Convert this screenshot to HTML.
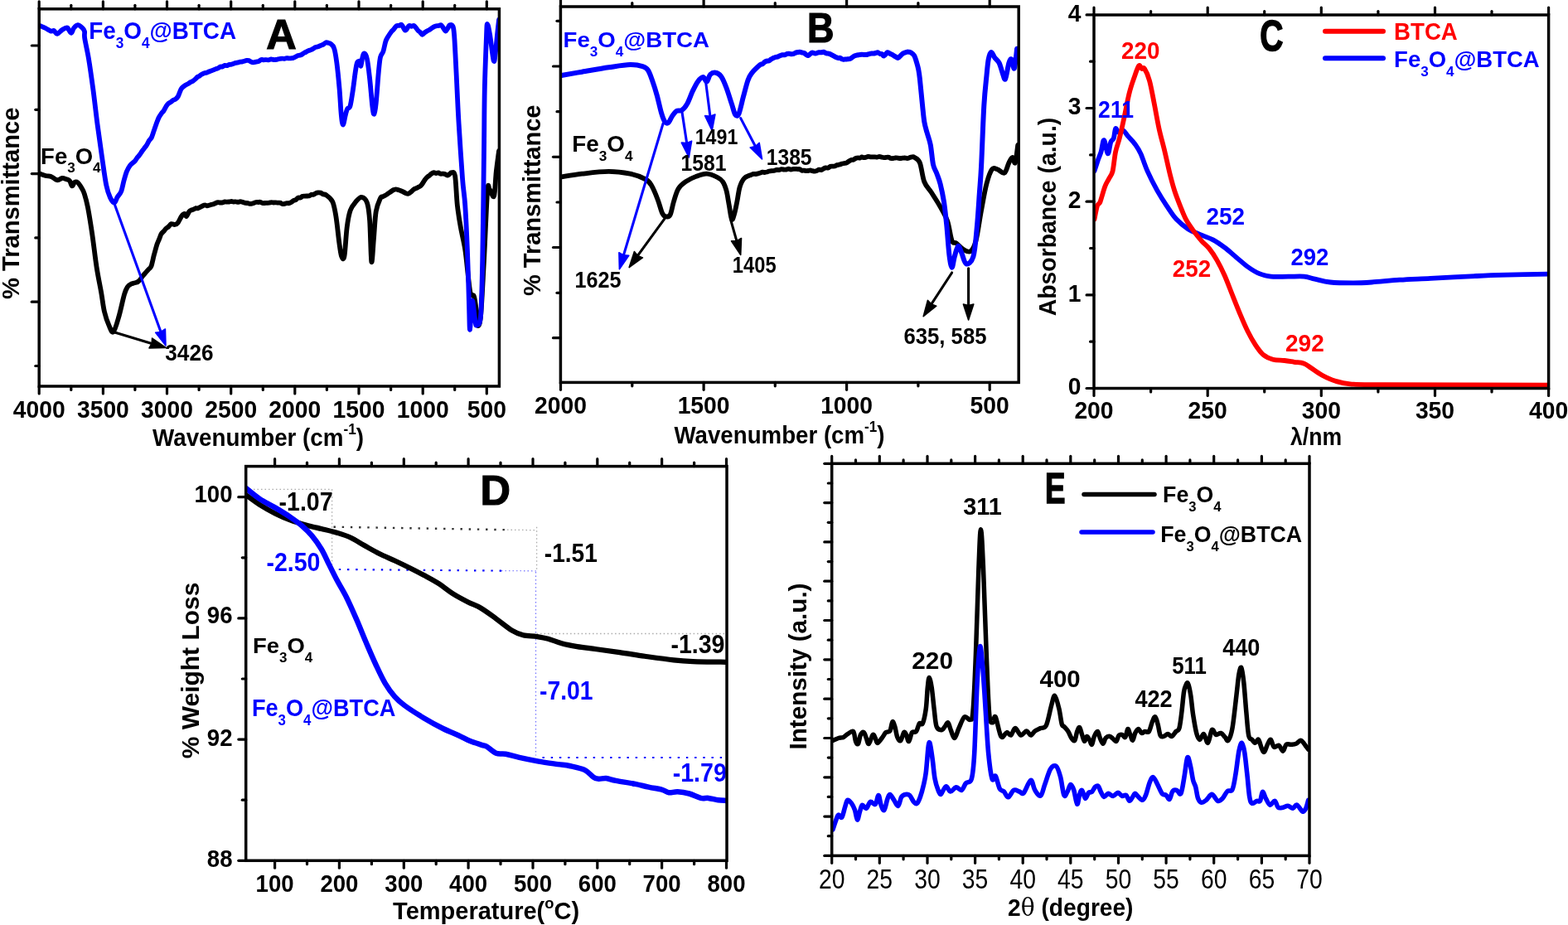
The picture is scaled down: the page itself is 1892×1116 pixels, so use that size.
<!DOCTYPE html>
<html><head><meta charset="utf-8"><title>Figure</title>
<style>
html,body{margin:0;padding:0;background:#fff;}
body{width:1892px;height:1116px;overflow:hidden;}
svg{display:block;}
text{font-family:'Liberation Sans', Arial, sans-serif;}
</style></head>
<body>
<svg width="1892" height="1116" viewBox="0 0 1892 1116">
<rect width="1892" height="1116" fill="#fff"/>
<defs><clipPath id="c0"><rect x="47.2" y="10.8" width="555.2" height="455.2"/></clipPath><clipPath id="c1"><rect x="676.4" y="8" width="552.8" height="453.4"/></clipPath><clipPath id="c2"><rect x="1320" y="18" width="548.6" height="450.5"/></clipPath><clipPath id="c3"><rect x="296.7" y="562.6" width="580.3" height="475.7"/></clipPath><clipPath id="c4"><rect x="1003.7" y="559.3" width="576.3" height="473.1"/></clipPath></defs>
<line x1="47.2" y1="466" x2="47.2" y2="474.9" stroke="#000000" stroke-width="3.2" stroke-linecap="round"/>
<line x1="47.2" y1="10.8" x2="47.2" y2="1.8" stroke="#000000" stroke-width="3.2" stroke-linecap="round"/>
<line x1="124.4" y1="466" x2="124.4" y2="474.9" stroke="#000000" stroke-width="3.2" stroke-linecap="round"/>
<line x1="124.4" y1="10.8" x2="124.4" y2="1.8" stroke="#000000" stroke-width="3.2" stroke-linecap="round"/>
<line x1="201.5" y1="466" x2="201.5" y2="474.9" stroke="#000000" stroke-width="3.2" stroke-linecap="round"/>
<line x1="201.5" y1="10.8" x2="201.5" y2="1.8" stroke="#000000" stroke-width="3.2" stroke-linecap="round"/>
<line x1="278.7" y1="466" x2="278.7" y2="474.9" stroke="#000000" stroke-width="3.2" stroke-linecap="round"/>
<line x1="278.7" y1="10.8" x2="278.7" y2="1.8" stroke="#000000" stroke-width="3.2" stroke-linecap="round"/>
<line x1="355.8" y1="466" x2="355.8" y2="474.9" stroke="#000000" stroke-width="3.2" stroke-linecap="round"/>
<line x1="355.8" y1="10.8" x2="355.8" y2="1.8" stroke="#000000" stroke-width="3.2" stroke-linecap="round"/>
<line x1="433" y1="466" x2="433" y2="474.9" stroke="#000000" stroke-width="3.2" stroke-linecap="round"/>
<line x1="433" y1="10.8" x2="433" y2="1.8" stroke="#000000" stroke-width="3.2" stroke-linecap="round"/>
<line x1="510.2" y1="466" x2="510.2" y2="474.9" stroke="#000000" stroke-width="3.2" stroke-linecap="round"/>
<line x1="510.2" y1="10.8" x2="510.2" y2="1.8" stroke="#000000" stroke-width="3.2" stroke-linecap="round"/>
<line x1="587.3" y1="466" x2="587.3" y2="474.9" stroke="#000000" stroke-width="3.2" stroke-linecap="round"/>
<line x1="587.3" y1="10.8" x2="587.3" y2="1.8" stroke="#000000" stroke-width="3.2" stroke-linecap="round"/>
<line x1="85.8" y1="466" x2="85.8" y2="470.4" stroke="#000000" stroke-width="3.2" stroke-linecap="round"/>
<line x1="85.8" y1="10.8" x2="85.8" y2="6.3" stroke="#000000" stroke-width="3.2" stroke-linecap="round"/>
<line x1="162.9" y1="466" x2="162.9" y2="470.4" stroke="#000000" stroke-width="3.2" stroke-linecap="round"/>
<line x1="162.9" y1="10.8" x2="162.9" y2="6.3" stroke="#000000" stroke-width="3.2" stroke-linecap="round"/>
<line x1="240.1" y1="466" x2="240.1" y2="470.4" stroke="#000000" stroke-width="3.2" stroke-linecap="round"/>
<line x1="240.1" y1="10.8" x2="240.1" y2="6.3" stroke="#000000" stroke-width="3.2" stroke-linecap="round"/>
<line x1="317.3" y1="466" x2="317.3" y2="470.4" stroke="#000000" stroke-width="3.2" stroke-linecap="round"/>
<line x1="317.3" y1="10.8" x2="317.3" y2="6.3" stroke="#000000" stroke-width="3.2" stroke-linecap="round"/>
<line x1="394.4" y1="466" x2="394.4" y2="470.4" stroke="#000000" stroke-width="3.2" stroke-linecap="round"/>
<line x1="394.4" y1="10.8" x2="394.4" y2="6.3" stroke="#000000" stroke-width="3.2" stroke-linecap="round"/>
<line x1="471.6" y1="466" x2="471.6" y2="470.4" stroke="#000000" stroke-width="3.2" stroke-linecap="round"/>
<line x1="471.6" y1="10.8" x2="471.6" y2="6.3" stroke="#000000" stroke-width="3.2" stroke-linecap="round"/>
<line x1="548.7" y1="466" x2="548.7" y2="470.4" stroke="#000000" stroke-width="3.2" stroke-linecap="round"/>
<line x1="548.7" y1="10.8" x2="548.7" y2="6.3" stroke="#000000" stroke-width="3.2" stroke-linecap="round"/>
<line x1="47.2" y1="55" x2="38.3" y2="55" stroke="#000000" stroke-width="3.2" stroke-linecap="round"/>
<line x1="47.2" y1="209.6" x2="38.3" y2="209.6" stroke="#000000" stroke-width="3.2" stroke-linecap="round"/>
<line x1="47.2" y1="364.2" x2="38.3" y2="364.2" stroke="#000000" stroke-width="3.2" stroke-linecap="round"/>
<line x1="47.2" y1="132.3" x2="42.8" y2="132.3" stroke="#000000" stroke-width="3.2" stroke-linecap="round"/>
<line x1="47.2" y1="286.9" x2="42.8" y2="286.9" stroke="#000000" stroke-width="3.2" stroke-linecap="round"/>
<line x1="47.2" y1="441.5" x2="42.8" y2="441.5" stroke="#000000" stroke-width="3.2" stroke-linecap="round"/>
<text x="47.2" y="504.4" font-size="29.8" fill="#000000" text-anchor="middle" font-weight="bold" textLength="62.9" lengthAdjust="spacingAndGlyphs" >4000</text>
<text x="124.4" y="504.4" font-size="29.8" fill="#000000" text-anchor="middle" font-weight="bold" textLength="62.9" lengthAdjust="spacingAndGlyphs" >3500</text>
<text x="201.5" y="504.4" font-size="29.8" fill="#000000" text-anchor="middle" font-weight="bold" textLength="62.9" lengthAdjust="spacingAndGlyphs" >3000</text>
<text x="278.7" y="504.4" font-size="29.8" fill="#000000" text-anchor="middle" font-weight="bold" textLength="62.9" lengthAdjust="spacingAndGlyphs" >2500</text>
<text x="355.8" y="504.4" font-size="29.8" fill="#000000" text-anchor="middle" font-weight="bold" textLength="62.9" lengthAdjust="spacingAndGlyphs" >2000</text>
<text x="433" y="504.4" font-size="29.8" fill="#000000" text-anchor="middle" font-weight="bold" textLength="62.9" lengthAdjust="spacingAndGlyphs" >1500</text>
<text x="510.2" y="504.4" font-size="29.8" fill="#000000" text-anchor="middle" font-weight="bold" textLength="62.9" lengthAdjust="spacingAndGlyphs" >1000</text>
<text x="587.3" y="504.4" font-size="29.8" fill="#000000" text-anchor="middle" font-weight="bold" textLength="47.2" lengthAdjust="spacingAndGlyphs" >500</text>
<text x="311.5" y="538.4" font-size="30" fill="#000000" text-anchor="middle" font-weight="bold" textLength="255" lengthAdjust="spacingAndGlyphs" >Wavenumber (cm<tspan font-size="18.5" dy="-14">-1</tspan><tspan dy="14">)</tspan></text>
<text x="0" y="0" font-size="30" fill="#000000" text-anchor="middle" font-weight="bold" textLength="231.5" lengthAdjust="spacingAndGlyphs" transform="translate(23,245.3) rotate(-90)">% Transmittance</text>
<path d="M48.1,209.6 C49.2,210 52.8,211.4 55,212 C57.2,212.6 59.5,212.2 61.5,212.9 C63.5,213.6 65.5,215.6 66.9,216.3 C68.3,217 68.8,217.4 70.1,217.2 C71.4,217 73.3,215.2 75,215 C76.7,214.8 78.8,215.8 80.3,216.3 C81.8,216.8 82.9,216.7 84,218 C85.1,219.3 86,224.1 87,224.4 C88,224.7 88.9,220.7 90,220 C91.1,219.3 92.5,219.3 93.8,220.3 C95.1,221.3 96.7,223.8 98,226 C99.3,228.2 100.5,229.8 101.8,233.8 C103.1,237.8 104.3,241.8 105.9,249.9 C107.5,258 109.4,270.1 111.2,282.2 C113,294.3 114.8,310.9 116.6,322.5 C118.4,334.1 120.4,343.1 122,352 C123.6,360.9 124.4,369.5 126,376.2 C127.6,382.9 129.6,388.4 131.4,392.4 C133.2,396.4 134.8,402.2 136.8,400.4 C138.8,398.6 141.3,389.2 143.5,381.6 C145.7,374 148.4,360.6 150.2,354.7 C151.9,348.8 152.7,348 154,346 C155.3,344 157.1,343.3 158.3,342.6 C159.5,341.9 160.1,341.9 161,341.7 C161.9,341.4 162.7,341.2 163.6,341 C164.5,340.7 165.4,340.6 166.3,340 C167.2,339.4 168.1,338.6 169,337.5 C169.9,336.4 170.8,334.8 171.7,333.6 C172.6,332.4 173.5,331.5 174.4,330.5 C175.3,329.5 176.2,328.4 177.1,327.4 C178,326.4 178.9,325.4 179.8,324.4 C180.7,323.3 181.5,323.9 182.5,321.1 C183.5,318.3 184.7,312.1 185.8,307.8 C187,303.6 188.2,298.8 189.2,295.6 C190.2,292.4 191,291.2 191.9,288.9 C192.8,286.7 193.7,283.8 194.6,282.2 C195.5,280.6 196.4,280.3 197.3,279.3 C198.2,278.3 199,277 200,276 C201,275 202.2,274.5 203.3,273.5 C204.5,272.5 205.4,270.5 206.7,270.1 C208,269.7 209.7,271.2 211,271 C212.3,270.8 213.4,270.4 214.7,268.7 C216,267 217.7,262.8 219,261 C220.3,259.2 221.8,258 222.8,258 C223.8,258 224.1,261.4 225,261 C225.9,260.6 227.2,256.5 228.2,255.3 C229.2,254.1 230,253.9 230.9,253.5 C231.8,253.1 232.7,253.1 233.6,252.7 C234.5,252.3 235.4,251.5 236.2,251.2 C237.1,251 238,251.5 238.9,251.3 C239.8,251 240.7,250.4 241.6,249.9 C242.5,249.5 243.4,248.9 244.3,248.5 C245.2,248.1 246.1,247.3 247,247.3 C247.9,247.2 248.8,248.2 249.7,248.3 C250.6,248.4 251.5,248 252.4,247.7 C253.3,247.5 254.2,247 255.1,246.7 C255.9,246.5 256.8,246.5 257.7,246.2 C258.6,245.9 259.5,245.3 260.4,245 C261.3,244.6 262.2,244.3 263.1,244.2 C264,244.1 264.9,244.5 265.8,244.5 C266.7,244.5 267.6,244.6 268.5,244.4 C269.4,244.2 270.3,243.6 271.2,243.5 C272.1,243.4 273,243.6 273.9,243.6 C274.8,243.6 275.7,243.6 276.6,243.5 C277.5,243.4 278.3,243 279.2,243 C280.1,243 281,243.5 281.9,243.6 C282.8,243.6 283.7,243.3 284.6,243.4 C285.5,243.4 286.4,243.9 287.3,243.9 C288.2,243.9 289,243.2 290,243.2 C291,243.2 292,243.6 293,243.9 C294,244.2 295,244.6 296.1,244.8 C297.1,245 298.1,245 299.1,245.2 C300.1,245.4 301,245.9 302.1,245.9 C303.2,245.9 304.3,245.5 305.5,245.2 C306.6,244.9 307.8,244.2 308.8,244 C309.8,243.8 310.6,244 311.4,244 C312.3,244 313.2,243.6 314.1,243.8 C315,243.9 315.9,244.8 316.8,245 C317.6,245.2 318.5,245.1 319.4,245 C320.3,245 321.2,244.9 322.1,244.9 C322.9,244.8 323.8,244.8 324.7,244.7 C325.6,244.6 326.5,244.2 327.4,244.1 C328.2,244.1 329.1,244.5 330,244.5 C330.9,244.5 331.8,244.3 332.7,244.3 C333.6,244.4 334.5,244.7 335.4,244.7 C336.3,244.8 337.1,244.4 338,244.7 C338.9,244.9 339.8,245.8 340.7,246 C341.6,246.3 342.5,246.1 343.4,245.9 C344.3,245.7 345.2,245.2 346.1,245.1 C347,245 347.9,245.4 348.8,245.2 C349.7,245 350.6,244.5 351.5,244 C352.4,243.5 353.3,242.5 354.2,242 C355.1,241.5 356,241.7 356.9,241.1 C357.8,240.6 358.7,239 359.6,238.6 C360.5,238.2 361.4,238.9 362.3,238.6 C363.2,238.3 364.1,237.1 365,236.8 C365.8,236.4 366.7,236.6 367.6,236.6 C368.5,236.5 369.4,236.5 370.3,236.5 C371.2,236.5 372.1,236.6 373,236.3 C373.9,236.1 374.8,235.1 375.7,234.8 C376.6,234.6 377.5,235.1 378.4,234.8 C379.3,234.5 380.2,233.5 381.1,233.1 C382,232.7 382.8,232.5 383.8,232.4 C384.8,232.3 385.9,232.3 386.9,232.6 C388,233 389,234 390.1,234.4 C391.1,234.8 391.3,233.6 393.2,235.1 C395.1,236.6 399.2,238.9 401.2,243.2 C403.2,247.4 403.9,252.3 405.3,260.6 C406.7,268.9 408.2,284.8 409.3,292.9 C410.4,301 411,306.3 412,309 C413,311.7 414.4,314.8 415.5,309 C416.6,303.2 417.5,283.3 418.7,274.1 C419.9,264.9 420.9,259.1 422.7,253.9 C424.5,248.8 427.2,245.9 429.5,243.2 C431.8,240.5 434,237.6 436.2,237.8 C438.4,238 441.2,239.8 442.9,244.5 C444.5,249.2 445.2,254.1 446.1,266 C447,277.9 447.5,312.2 448.3,315.8 C449.1,319.4 450.1,297.6 451,287.5 C451.9,277.4 452.4,263.4 453.7,255.3 C455,247.2 457.7,242.1 459,239.1 C460.3,236.1 460.8,237.9 461.7,237.4 C462.6,236.9 463.5,236.5 464.4,236 C465.3,235.5 466.2,234.9 467.1,234.3 C468,233.7 468.9,233 469.8,232.4 C470.7,231.8 471.6,231.1 472.5,230.6 C473.4,230 474.2,229.4 475.1,229 C476,228.7 476.9,228.4 477.8,228.4 C478.7,228.4 479.6,228.9 480.5,229.1 C481.4,229.4 482.3,229.6 483.2,229.9 C484.1,230.2 484.9,230.6 485.9,231.1 C486.9,231.6 488.1,232.4 489.2,232.9 C490.4,233.3 491.5,234.1 492.6,233.8 C493.7,233.5 494.9,232.3 496,231.4 C497.1,230.5 498.4,229.1 499.4,228.4 C500.4,227.7 501.2,227.6 502.1,227.2 C503,226.8 503.8,226.3 504.7,225.8 C505.6,225.3 506.5,225.2 507.4,224.4 C508.3,223.6 509.2,222.3 510.1,221 C511,219.7 511.9,217.9 512.8,216.7 C513.7,215.5 514.6,214.4 515.5,213.6 C516.4,212.8 517.3,212.4 518.2,211.7 C519.1,211 519.9,210.1 520.8,209.5 C521.7,208.9 522.6,208.3 523.5,208.2 C524.4,208.1 525.3,209.1 526.2,209.1 C527.1,209.1 528,208.2 528.9,208.3 C529.8,208.4 530.7,209.5 531.6,209.7 C532.5,209.9 533.4,209.5 534.3,209.6 C535.2,209.7 536.1,209.7 537,210.1 C537.9,210.4 538.8,211.7 539.7,211.7 C540.6,211.7 541.5,210.8 542.4,210.2 C543.2,209.6 543.9,207.9 545,208.2 C546.1,208.5 548,205.8 549.1,212.3 C550.2,218.8 550.7,236.9 551.8,247.2 C552.9,257.5 554.2,265.1 555.8,274.1 C557.4,283.1 559.6,290.7 561.2,301 C562.8,311.3 564.1,326.9 565.2,335.9 C566.3,344.8 566.8,351.1 567.9,354.7 C569,358.3 570.8,354.3 571.9,357.4 C573,360.5 573.9,367.7 574.6,373.5 C575.3,379.3 575.1,391 576,392.4 C576.9,393.8 578.7,394.6 580,381.6 C581.3,368.6 582.6,339.5 584,314.4 C585.4,289.3 587,245.4 588.1,231.1 C589.2,216.8 589.5,227.5 590.8,228.4 C592.1,229.3 594.8,240.1 596.1,236.5 C597.4,232.9 597.8,216 598.8,206.9 C599.8,197.8 601.5,186.2 602,182" fill="none" stroke="#000000" stroke-width="5.8" stroke-linejoin="round" stroke-linecap="round" clip-path="url(#c0)" />
<path d="M48.6,31.2 C49.7,31.7 52.9,32.9 55,34 C57.1,35.1 59.8,37.1 61.5,37.6 C63.2,38.1 63.8,36.5 65,37 C66.2,37.5 67.3,41.1 69,40.9 C70.7,40.7 73,37.3 75,36 C77,34.7 79.6,33.3 80.9,33.3 C82.2,33.3 82.1,34.9 83,36 C83.9,37.1 85.2,40.1 86.2,39.8 C87.2,39.5 87.7,35.6 89,34 C90.3,32.4 92.1,30.2 93.8,30.1 C95.5,30 97.7,32.1 99.1,33.4 C100.5,34.7 101.5,35.9 102,38 C102.5,40.1 101.4,40.7 102.2,46.2 C103,51.7 105.3,60.8 107,71 C108.7,81.2 110.5,94.2 112.3,107.5 C114.1,120.8 115.8,136.9 117.6,150.5 C119.4,164.1 121.2,177 123,189.2 C124.8,201.4 126.6,215.5 128.3,223.7 C130,231.9 131.4,235 133,238.5 C134.6,242 136.7,244.6 138.1,244.5 C139.5,244.4 140.2,240.2 141.5,238 C142.8,235.8 144.9,234.3 146.2,231 C147.5,227.7 148.4,222 149.5,218 C150.6,214 151.7,210 152.9,206.9 C154.2,203.8 155.4,201.6 157,199.5 C158.6,197.4 161.2,196.1 162.6,194.6 C164,193.1 164.5,191.5 165.5,190.3 C166.4,189 167.4,188.3 168.3,187 C169.3,185.8 170.2,184.2 171.2,182.8 C172.2,181.4 173.2,180.1 174.1,178.8 C175.1,177.5 176.1,176.3 177.1,174.8 C178.1,173.2 179.1,170.9 180.1,169.4 C181,167.9 182,167.6 183,165.6 C184,163.6 184.9,160 185.9,157.3 C186.8,154.5 187.8,151.8 188.7,149.2 C189.7,146.7 190.6,143.9 191.6,141.9 C192.6,139.9 193.6,138.5 194.6,137.2 C195.5,135.8 196.5,135.1 197.5,133.7 C198.5,132.2 199.5,129.9 200.4,128.4 C201.4,126.9 202.4,125.6 203.4,124.7 C204.4,123.8 205.3,123.6 206.3,123 C207.2,122.3 208.2,121.3 209.1,120.7 C210.1,120.1 211,120.2 212,119.4 C213,118.6 213.9,118 215,116 C216.1,114 217.3,109.5 218.5,107.5 C219.7,105.5 221,104.9 222,104 C223,103.1 223.7,102.7 224.6,102.2 C225.4,101.7 226.2,101.5 227.1,101 C228,100.5 228.9,99.6 229.9,99.1 C230.8,98.5 231.7,98.4 232.6,97.9 C233.6,97.3 234.5,96.5 235.4,95.7 C236.3,94.9 237.3,93.6 238.2,92.9 C239.1,92.2 240,92.1 241,91.5 C241.9,90.9 242.8,90 243.7,89.5 C244.7,88.9 245.6,88.5 246.5,88.2 C247.4,87.9 248.3,88 249.3,87.7 C250.2,87.4 251.1,86.9 252,86.5 C252.9,86.1 253.9,85.8 254.8,85.4 C255.7,85.1 256.6,84.8 257.5,84.4 C258.4,84 259.4,83.5 260.3,83.2 C261.2,82.8 262.1,82.8 263,82.4 C264,82 264.9,80.9 265.8,80.6 C266.7,80.3 267.6,80.7 268.5,80.4 C269.4,80.1 270.3,79.1 271.2,78.9 C272.1,78.7 273,79.3 273.9,79.2 C274.8,79 275.7,78.2 276.6,77.9 C277.4,77.7 278.3,77.9 279.2,77.7 C280.1,77.5 281,77 281.9,76.7 C282.8,76.4 283.7,76.1 284.6,75.8 C285.5,75.6 286.4,75.5 287.3,75.3 C288.2,75.1 289,74.8 289.9,74.6 C290.7,74.5 291.6,74.5 292.5,74.3 C293.3,74.1 294.2,73.9 295,73.7 C295.9,73.5 296.8,73 297.6,72.9 C298.5,72.8 299.3,72.8 300.2,73.1 C301.1,73.4 302,74.3 302.9,74.7 C303.8,75.1 304.6,75.3 305.6,75.3 C306.6,75.3 307.8,74.9 308.8,74.7 C309.9,74.4 311,74.3 312.1,73.9 C313.1,73.4 314.3,72.3 315.3,72 C316.3,71.7 317.3,72.3 318.2,72.3 C319.2,72.3 320.2,72.1 321.2,72.1 C322.2,72.1 323.1,72.5 324.1,72.4 C325.1,72.3 326.1,71.5 327.1,71.4 C328,71.3 329.1,71.9 330,72 C330.9,72.1 331.8,72.1 332.6,72 C333.5,72 334.4,71.7 335.3,71.4 C336.1,71.2 337,70.9 337.9,70.8 C338.8,70.6 339.7,70.6 340.5,70.6 C341.4,70.6 342.3,70.9 343.2,70.9 C344,70.8 344.9,70.3 345.8,70.2 C346.7,70.1 347.6,70.3 348.4,70.3 C349.3,70.3 350.2,70.4 351.1,70.3 C351.9,70.2 352.8,70.2 353.7,69.9 C354.6,69.6 355.5,69.1 356.4,68.7 C357.3,68.2 358.2,67.5 359,67.2 C359.9,66.8 360.8,66.9 361.7,66.7 C362.6,66.4 363.5,66.1 364.4,65.6 C365.3,65.1 366.2,64.3 367.1,63.8 C368,63.3 368.9,62.9 369.8,62.5 C370.7,62 371.6,61.4 372.5,61.1 C373.4,60.7 374.3,60.6 375.2,60.2 C376.1,59.8 377.1,59.2 378.1,58.7 C379,58.1 380,57.3 380.9,56.9 C381.9,56.5 382.8,56.6 383.8,56.3 C384.8,56 385.9,55.3 387,54.8 C388.1,54.4 389.1,54.2 390.2,53.6 C391.3,53 392.4,51.5 393.4,51.2 C394.4,50.9 395.2,51.5 396.1,51.8 C397,52 397.6,51.6 398.8,52.7 C400,53.8 401.9,54.3 403.1,58.1 C404.4,61.9 405.2,67.1 406.3,75.3 C407.4,83.5 408.7,97.1 409.6,107.5 C410.5,117.9 411,130.4 411.7,137.6 C412.4,144.8 413,150.5 413.9,150.5 C414.8,150.5 416.2,140.8 417.1,137.6 C418,134.4 418.3,132.8 419.2,131.2 C420.1,129.6 421.4,131.6 422.5,128 C423.6,124.4 424.6,116.7 425.7,109.7 C426.8,102.7 428,91.7 428.9,86 C429.8,80.3 430.2,77.3 431.1,75.3 C432,73.3 433.6,73.5 434.3,74.2 C435,74.9 434.9,80.5 435.4,79.6 C435.9,78.7 436.8,71.3 437.5,68.8 C438.2,66.3 438.8,64.1 439.7,64.5 C440.6,64.9 441.8,66 442.9,71 C444,76 445,84.9 446.1,94.6 C447.2,104.3 448.5,121.8 449.4,129 C450.3,136.2 450.8,138.3 451.5,137.6 C452.2,136.9 452.8,133.3 453.7,124.7 C454.6,116.1 456,95.3 456.9,86 C457.8,76.7 458.1,72.7 459,68.8 C459.9,64.9 461.2,65.6 462.3,62.4 C463.4,59.2 464.4,52.6 465.5,49.5 C466.6,46.4 467.6,45.3 468.7,43.5 C469.8,41.7 470.8,40.1 471.9,38.7 C473,37.3 474.1,36.5 475.1,35.2 C476.2,34 477.3,31.9 478.4,31.2 C479.5,30.5 480.5,31 481.6,30.9 C482.7,30.7 483.6,29.1 484.8,30.1 C486.1,31.1 487.7,36.4 489.1,36.6 C490.5,36.8 492.1,32 493.4,31.2 C494.7,30.4 495.6,31.8 496.6,31.8 C497.7,31.8 498.6,30.4 499.9,31.2 C501.2,32 503,35.3 504.2,36.6 C505.4,37.9 506,38 506.9,38.9 C507.8,39.8 508.7,41.8 509.6,41.9 C510.5,42 511.4,40.1 512.3,39.4 C513.2,38.7 514.1,38.1 515,37.6 C515.9,37.1 516.9,36.7 517.8,36.2 C518.8,35.6 519.7,34.9 520.7,34.3 C521.6,33.6 522.5,32.8 523.5,32.3 C524.5,31.8 525.4,31.5 526.4,31.3 C527.4,31.1 528.3,31.3 529.3,31.1 C530.3,30.9 531.3,29.7 532.2,30.1 C533.1,30.5 534,32.5 534.9,33.7 C535.7,35 536.6,37.5 537.5,37.6 C538.4,37.7 539.3,35.5 540.2,34.2 C541.1,33 541.7,30.1 542.9,30.1 C544.1,30.1 546.1,28.7 547.2,34.4 C548.3,40.1 548.7,52.3 549.4,64.5 C550.1,76.7 550.8,93.2 551.5,107.5 C552.2,121.8 552.6,132.6 553.7,150.5 C554.8,168.4 556.8,198.9 558,215 C559.2,231.1 560.2,232.9 561.2,247.2 C562.2,261.5 563.1,280.8 563.9,301 C564.7,321.2 565.5,352.1 566,368.2 C566.5,384.3 566.5,398.6 567.1,397.7 C567.7,396.8 568.8,364.6 569.8,362.8 C570.8,361 572.4,382.1 573.3,387 C574.2,391.9 574.1,393.3 575.2,392.4 C576.3,391.5 578.8,394.6 580,381.6 C581.2,368.6 581.5,348 582.2,314.4 C582.9,280.8 583.6,214.5 584,180 C584.4,145.5 584.3,130.3 584.8,107.5 C585.3,84.7 586.5,56.1 587,43 C587.5,29.9 587.4,29 588.1,29 C588.8,29 590,35.6 591.3,43 C592.5,50.4 594.5,69.5 595.6,73.1 C596.7,76.7 597,69.5 597.7,64.5 C598.4,59.5 599.2,49.8 599.9,43 C600.6,36.2 601.6,26.9 602,23.7" fill="none" stroke="#0000ff" stroke-width="5.8" stroke-linejoin="round" stroke-linecap="round" clip-path="url(#c0)" />
<line x1="138.1" y1="246" x2="194.6" y2="402" stroke="#0000ff" stroke-width="3.1" stroke-linecap="round"/>
<polygon points="200,417 187.7,401.2 194,400.5 199.4,397" fill="#0000ff" stroke="#0000ff" stroke-width="1.6" stroke-linejoin="round"/>
<line x1="136.8" y1="400.4" x2="184.7" y2="414.9" stroke="#000000" stroke-width="3.1" stroke-linecap="round"/>
<polygon points="200,419.5 180,419.9 183.2,414.4 183.6,408.1" fill="#000000" stroke="#000000" stroke-width="1.6" stroke-linejoin="round"/>
<text x="199.3" y="435" font-size="28.249999999999996" fill="#000000" text-anchor="start" font-weight="bold" textLength="58.2" lengthAdjust="spacingAndGlyphs" >3426</text>
<text x="107.2" y="47" font-size="28.62" fill="#0000ff" text-anchor="start" font-weight="bold" textLength="177.8" lengthAdjust="spacingAndGlyphs" >Fe<tspan font-size="17.7" dy="11.4">3</tspan><tspan dy="-11.4">O</tspan><tspan font-size="17.7" dy="11.4">4</tspan><tspan dy="-11.4">@BTCA</tspan></text>
<text x="49.1" y="197.6" font-size="27.03" fill="#000000" text-anchor="start" font-weight="bold" textLength="72.5" lengthAdjust="spacingAndGlyphs" >Fe<tspan font-size="16.8" dy="10.8">3</tspan><tspan dy="-10.8">O</tspan><tspan font-size="16.8" dy="10.8">4</tspan></text>
<text x="321.2" y="59.2" font-size="50.5" fill="#000000" text-anchor="start" font-weight="bold" textLength="36.5" lengthAdjust="spacingAndGlyphs" stroke="#000" stroke-width="1.2">A</text>
<line x1="676.5" y1="461.4" x2="676.5" y2="470.3" stroke="#000000" stroke-width="3.2" stroke-linecap="round"/>
<line x1="676.5" y1="8" x2="676.5" y2="-0.9" stroke="#000000" stroke-width="3.2" stroke-linecap="round"/>
<line x1="849.1" y1="461.4" x2="849.1" y2="470.3" stroke="#000000" stroke-width="3.2" stroke-linecap="round"/>
<line x1="849.1" y1="8" x2="849.1" y2="-0.9" stroke="#000000" stroke-width="3.2" stroke-linecap="round"/>
<line x1="1021.6" y1="461.4" x2="1021.6" y2="470.3" stroke="#000000" stroke-width="3.2" stroke-linecap="round"/>
<line x1="1021.6" y1="8" x2="1021.6" y2="-0.9" stroke="#000000" stroke-width="3.2" stroke-linecap="round"/>
<line x1="1194.2" y1="461.4" x2="1194.2" y2="470.3" stroke="#000000" stroke-width="3.2" stroke-linecap="round"/>
<line x1="1194.2" y1="8" x2="1194.2" y2="-0.9" stroke="#000000" stroke-width="3.2" stroke-linecap="round"/>
<line x1="762.8" y1="461.4" x2="762.8" y2="465.8" stroke="#000000" stroke-width="3.2" stroke-linecap="round"/>
<line x1="762.8" y1="8" x2="762.8" y2="3.6" stroke="#000000" stroke-width="3.2" stroke-linecap="round"/>
<line x1="935.3" y1="461.4" x2="935.3" y2="465.8" stroke="#000000" stroke-width="3.2" stroke-linecap="round"/>
<line x1="935.3" y1="8" x2="935.3" y2="3.6" stroke="#000000" stroke-width="3.2" stroke-linecap="round"/>
<line x1="1107.9" y1="461.4" x2="1107.9" y2="465.8" stroke="#000000" stroke-width="3.2" stroke-linecap="round"/>
<line x1="1107.9" y1="8" x2="1107.9" y2="3.6" stroke="#000000" stroke-width="3.2" stroke-linecap="round"/>
<line x1="676.4" y1="80" x2="667.5" y2="80" stroke="#000000" stroke-width="3.2" stroke-linecap="round"/>
<line x1="676.4" y1="189.3" x2="667.5" y2="189.3" stroke="#000000" stroke-width="3.2" stroke-linecap="round"/>
<line x1="676.4" y1="298.5" x2="667.5" y2="298.5" stroke="#000000" stroke-width="3.2" stroke-linecap="round"/>
<line x1="676.4" y1="407.7" x2="667.5" y2="407.7" stroke="#000000" stroke-width="3.2" stroke-linecap="round"/>
<line x1="676.4" y1="25.3" x2="672" y2="25.3" stroke="#000000" stroke-width="3.2" stroke-linecap="round"/>
<line x1="676.4" y1="134.7" x2="672" y2="134.7" stroke="#000000" stroke-width="3.2" stroke-linecap="round"/>
<line x1="676.4" y1="244" x2="672" y2="244" stroke="#000000" stroke-width="3.2" stroke-linecap="round"/>
<line x1="676.4" y1="353.3" x2="672" y2="353.3" stroke="#000000" stroke-width="3.2" stroke-linecap="round"/>
<text x="676.5" y="499.3" font-size="29.8" fill="#000000" text-anchor="middle" font-weight="bold" textLength="62.9" lengthAdjust="spacingAndGlyphs" >2000</text>
<text x="849.1" y="499.3" font-size="29.8" fill="#000000" text-anchor="middle" font-weight="bold" textLength="62.9" lengthAdjust="spacingAndGlyphs" >1500</text>
<text x="1021.6" y="499.3" font-size="29.8" fill="#000000" text-anchor="middle" font-weight="bold" textLength="62.9" lengthAdjust="spacingAndGlyphs" >1000</text>
<text x="1194.2" y="499.3" font-size="29.8" fill="#000000" text-anchor="middle" font-weight="bold" textLength="47.2" lengthAdjust="spacingAndGlyphs" >500</text>
<text x="940.5" y="534.6" font-size="30" fill="#000000" text-anchor="middle" font-weight="bold" textLength="254" lengthAdjust="spacingAndGlyphs" >Wavenumber (cm<tspan font-size="18.5" dy="-14">-1</tspan><tspan dy="14">)</tspan></text>
<text x="0" y="0" font-size="30" fill="#000000" text-anchor="middle" font-weight="bold" textLength="230.5" lengthAdjust="spacingAndGlyphs" transform="translate(652,241.8) rotate(-90)">% Transmittance</text>
<path d="M677.5,213.3 C681.6,212.7 692.8,210.8 702.3,209.7 C711.8,208.6 724.8,206.9 734.5,206.9 C744.2,206.9 752.9,208.2 760.3,209.7 C767.6,211.2 774.3,213.8 778.6,216.1 C782.9,218.4 783.6,219.6 786.1,223.7 C788.6,227.8 791.6,235.3 793.7,240.9 C795.9,246.5 797.4,253.6 799,257 C800.6,260.4 801.7,260.9 803.3,261.3 C804.9,261.7 807.1,262.2 808.7,259.1 C810.3,256.1 811.4,248.2 813,243 C814.6,237.8 816.1,231.9 818.4,228 C820.7,224.1 823.4,221.9 827,219.4 C830.6,216.9 835.6,214.5 839.9,212.9 C844.2,211.3 848.5,209.5 852.8,209.7 C857.1,209.9 862.5,212.4 865.7,214 C868.9,215.6 870.4,216.7 872.2,219.4 C874,222.1 875.2,225.4 876.5,230.1 C877.8,234.8 878.6,241.6 879.7,247.3 C880.8,253 881.8,262.7 882.9,264.5 C884,266.3 885,261.7 886.1,258.1 C887.2,254.5 888.3,248.4 889.4,243 C890.5,237.6 891.2,230.5 892.6,225.8 C894,221.2 895.7,217.6 898,215.1 C900.3,212.6 904.7,211.7 906.6,210.8 C908.5,209.9 908.4,209.9 909.3,209.8 C910.2,209.7 911.1,210.1 912,210 C912.9,209.9 913.8,209.6 914.7,209.4 C915.6,209.1 916.5,208.9 917.4,208.6 C918.2,208.3 919.1,207.8 920,207.7 C920.9,207.6 921.8,208 922.7,208 C923.6,207.9 924.5,207.7 925.4,207.5 C926.3,207.2 927.2,206.7 928.1,206.5 C929,206.3 930.1,206.3 931.1,206.1 C932.1,206 933.1,205.9 934,205.8 C935,205.6 936,205.1 937,205 C938,204.9 939,205.1 940,205 C941,204.9 941.9,204.2 942.9,204.1 C943.8,204 944.8,204.4 945.7,204.5 C946.7,204.5 947.6,204.7 948.6,204.6 C949.6,204.4 950.5,203.7 951.5,203.7 C952.4,203.7 953.4,204.5 954.3,204.5 C955.3,204.5 956.3,204 957.2,203.9 C958.1,203.8 958.9,203.8 959.8,203.8 C960.6,203.8 961.5,204 962.4,204.1 C963.2,204.1 964.1,203.8 964.9,204.1 C965.8,204.4 966.7,205.5 967.5,205.7 C968.4,206 969.2,205.6 970.1,205.6 C971,205.7 971.8,206 972.7,206.1 C973.5,206.2 974.4,206.1 975.3,206 C976.1,205.9 977,205.5 977.8,205.5 C978.7,205.5 979.6,206 980.4,206.2 C981.3,206.4 982.1,206.7 983,206.7 C983.9,206.7 984.8,206.3 985.7,205.9 C986.6,205.6 987.5,204.8 988.4,204.6 C989.3,204.5 990.2,205.2 991.1,205 C992,204.9 992.9,203.9 993.8,203.5 C994.6,203 995.5,202.6 996.4,202.4 C997.3,202.3 998.2,202.8 999.1,202.6 C1000,202.3 1000.9,201.2 1001.8,200.8 C1002.7,200.5 1003.6,200.7 1004.5,200.6 C1005.4,200.5 1006.4,200.7 1007.4,200.5 C1008.3,200.2 1009.3,199.4 1010.2,199.1 C1011.2,198.8 1012.1,198.8 1013.1,198.5 C1014.1,198.3 1015,197.8 1016,197.5 C1016.9,197.3 1017.9,197.2 1018.8,197 C1019.8,196.8 1020.8,196.7 1021.7,196.3 C1022.6,195.9 1023.5,195.1 1024.4,194.5 C1025.3,194 1026.2,193.3 1027.1,193 C1028,192.7 1028.9,193.2 1029.8,192.8 C1030.7,192.5 1031.6,191.4 1032.5,191 C1033.4,190.6 1034.2,190.3 1035,190.3 C1035.8,190.2 1036.7,190.8 1037.5,190.7 C1038.3,190.5 1039.2,189.6 1040,189.5 C1040.8,189.4 1041.7,190.2 1042.5,190.2 C1043.3,190.2 1044.2,189.9 1045,189.7 C1045.8,189.5 1046.6,188.9 1047.5,188.8 C1048.4,188.7 1049.3,189.2 1050.2,189.3 C1051.1,189.4 1052,189.4 1052.9,189.4 C1053.8,189.4 1054.7,189.3 1055.6,189.3 C1056.5,189.4 1057.4,189.7 1058.2,189.7 C1059.1,189.6 1060,189 1060.9,189 C1061.8,188.9 1062.7,189.4 1063.6,189.6 C1064.5,189.8 1065.4,190.2 1066.3,190.2 C1067.2,190.3 1068.1,190 1069,189.9 C1069.9,189.8 1070.9,189.5 1071.9,189.7 C1072.8,189.8 1073.8,190.6 1074.7,190.9 C1075.7,191.1 1076.6,191.1 1077.6,191 C1078.6,190.9 1079.5,190.6 1080.5,190.5 C1081.4,190.4 1082.4,190.5 1083.3,190.6 C1084.3,190.7 1085.2,191 1086.2,191 C1087.2,191 1088.1,190.8 1089.1,190.7 C1090,190.7 1091,190.4 1091.9,190.5 C1092.9,190.5 1093.8,191.2 1094.8,191.1 C1095.8,191.1 1096.7,190.4 1097.7,190.1 C1098.6,189.8 1099.6,189.5 1100.5,189.4 C1101.5,189.4 1101.8,188.8 1103.4,189.9 C1105,191 1107.9,191.4 1109.9,196.3 C1111.9,201.2 1113,213.4 1115.3,219.4 C1117.6,225.4 1120.7,227.3 1123.9,232.3 C1127.1,237.3 1131.4,243.8 1134.6,249.5 C1137.8,255.2 1140.9,259.9 1143.2,266.7 C1145.5,273.5 1146.8,285.8 1148.6,290.3 C1150.4,294.8 1151.7,291.7 1154,293.5 C1156.3,295.3 1159.7,299.5 1162.6,301.1 C1165.5,302.7 1168.7,305 1171.2,303.2 C1173.7,301.4 1175.4,298.5 1177.6,290.3 C1179.8,282.1 1181.9,265.3 1184.1,253.8 C1186.2,242.3 1188.3,229.8 1190.5,221.5 C1192.7,213.2 1194.8,207.2 1197,204.3 C1199.2,201.4 1200.9,203.6 1203.4,204.3 C1205.9,205 1209.7,209.9 1212,208.6 C1214.3,207.3 1215.8,199.4 1217.4,196.3 C1219,193.2 1220.4,189.9 1221.7,189.9 C1223,189.9 1223.9,198.8 1225,196.3 C1226.1,193.8 1227.7,178.4 1228.2,174.8" fill="none" stroke="#000000" stroke-width="5.8" stroke-linejoin="round" stroke-linecap="round" clip-path="url(#c1)" />
<path d="M677.5,91 C681.6,90.3 692.8,88.3 702.3,86.7 C711.8,85.1 724.8,82.7 734.5,81.3 C744.2,79.9 753.5,78.3 760.3,78.1 C767.1,77.9 771.8,79.1 775.4,80.2 C779,81.3 779.8,81.6 781.8,84.5 C783.8,87.4 785.4,92.4 787.2,97.4 C789,102.4 790.8,108.1 792.6,114.6 C794.4,121 796.4,130.7 798,136.1 C799.6,141.5 800.9,144.9 802.3,146.9 C803.7,148.9 805.2,149.1 806.6,148 C808,146.9 809.3,142.7 810.9,140.4 C812.5,138.1 814.2,135.2 816.2,134 C818.2,132.8 820.6,134.3 822.7,132.9 C824.9,131.5 827,129.2 829.1,125.4 C831.2,121.6 833.5,114.8 835.6,110.3 C837.8,105.8 839.9,101.4 842,98.5 C844.1,95.6 846.7,93.1 848.5,93.1 C850.3,93.1 851.4,99 852.8,98.5 C854.2,98 855.3,91.7 857.1,89.9 C858.9,88.1 861.4,87.4 863.5,87.7 C865.6,88 867.8,89 870,92 C872.2,95 874.4,100.4 876.5,106 C878.6,111.6 881.1,120 882.9,125.4 C884.7,130.8 885.8,136.3 887.2,138.3 C888.6,140.3 889.9,140.8 891.5,137.2 C893.1,133.6 895.1,123.4 896.9,116.8 C898.7,110.2 900.7,102.1 902.3,97.4 C903.9,92.7 904.1,92 906.6,88.8 C909.1,85.6 915.1,80 917.3,78.1 C919.5,76.2 919,77.9 919.9,77.3 C920.7,76.8 921.6,75.7 922.5,75.1 C923.3,74.4 924.2,73.9 925,73.6 C925.9,73.4 926.8,73.8 927.6,73.5 C928.5,73.2 929.3,72.2 930.2,71.6 C931.1,71 932,70.6 932.9,70.1 C933.8,69.7 934.7,69.3 935.6,69 C936.5,68.7 937.4,68.8 938.3,68.6 C939.2,68.3 940,67.7 941,67.3 C942,66.9 943,66.5 944,66.3 C945,66.1 946,66.4 947,66.2 C948,65.9 949.1,65.1 950,64.9 C950.9,64.7 951.7,64.7 952.5,64.8 C953.4,64.8 954.3,65.3 955.1,65.3 C955.9,65.3 956.8,65.3 957.6,65 C958.4,64.7 959.3,63.9 960.1,63.6 C960.9,63.3 961.8,63.1 962.7,63 C963.5,62.9 964.4,62.7 965.2,62.8 C966.1,62.9 966.9,63.3 967.8,63.5 C968.6,63.7 969.4,63.6 970.3,64 C971.1,64.4 972,65.5 972.8,66 C973.7,66.5 974.3,67.4 975.4,67 C976.5,66.6 978.2,64 979.6,63.6 C981,63.2 982.4,64.6 983.8,64.5 C985.2,64.4 986.9,63.4 988.1,63.2 C989.3,63 990.1,63.3 991,63.2 C992,63.2 993,62.6 994,62.8 C995,63 996.2,64 997.4,64.4 C998.5,64.7 999.4,64.5 1000.7,64.9 C1002,65.3 1003.8,66.4 1005,67 C1006.2,67.6 1007,68.2 1008,68.7 C1008.9,69.2 1009.9,69.7 1010.9,69.9 C1011.9,70.1 1012.8,69.7 1013.7,69.9 C1014.6,70.2 1015.6,71.2 1016.5,71.5 C1017.4,71.8 1018.3,71.6 1019.3,71.6 C1020.3,71.6 1021.6,71.4 1022.7,71.3 C1023.8,71.2 1024.8,71.4 1026.1,70.8 C1027.4,70.2 1029,68.5 1030.3,67.8 C1031.6,67.1 1032.6,67 1033.7,66.7 C1034.8,66.4 1036,66.3 1037.1,66.1 C1038.2,65.9 1039.1,65.7 1040,65.7 C1041,65.7 1042,66.1 1043,66.1 C1044,66.1 1044.9,66.1 1045.8,66 C1046.8,65.8 1047.7,65.4 1048.7,65.1 C1049.6,64.9 1050.6,64.6 1051.5,64.5 C1052.4,64.4 1053.2,64.7 1054,64.6 C1054.9,64.5 1055.7,64.2 1056.6,64 C1057.4,63.7 1058.3,63.1 1059.1,63.2 C1059.9,63.3 1060.8,64.5 1061.7,64.8 C1062.5,65.2 1063.4,64.9 1064.2,65.3 C1065,65.7 1065.6,67.8 1066.7,67.4 C1067.8,67.1 1069.7,63.6 1070.9,63.2 C1072.1,62.8 1072.9,64.2 1073.9,64.7 C1074.9,65.2 1075.8,65.5 1076.9,66.1 C1078,66.7 1079.1,67.6 1080.2,68.2 C1081.4,68.9 1082.5,70.1 1083.6,69.9 C1084.6,69.7 1085.6,68.2 1086.5,67.3 C1087.5,66.4 1088.3,65.3 1089.5,64.5 C1090.7,63.7 1092.7,63.1 1093.8,62.8 C1094.9,62.5 1095.5,62.6 1096.3,62.7 C1097.1,62.8 1097.7,62.5 1098.8,63.2 C1099.9,63.9 1102,65.2 1103.1,67 C1104.2,68.8 1104.8,71.1 1105.6,73.8 C1106.4,76.5 1107.4,79.5 1108.1,83.1 C1108.8,86.7 1109.1,87.9 1109.9,95.3 C1110.7,102.7 1112.2,118.9 1113.1,127.5 C1114,136.1 1114.4,141.5 1115.3,146.9 C1116.2,152.3 1117.2,155.2 1118.5,159.8 C1119.8,164.5 1121.5,168.4 1122.8,174.8 C1124,181.2 1124.8,192.8 1126,198.5 C1127.2,204.2 1128.9,205.3 1130.3,209.2 C1131.7,213.1 1133.2,216.4 1134.6,222 C1136,227.6 1137.6,234.8 1138.9,243 C1140.2,251.2 1141.1,260.2 1142.2,271 C1143.3,281.8 1144.3,298.9 1145.4,307.5 C1146.5,316.1 1147.5,322.2 1148.6,322.6 C1149.7,323 1150.5,314 1151.8,309.7 C1153,305.4 1154.7,297.5 1156.1,296.8 C1157.5,296.1 1158.8,301.8 1160.4,305.4 C1162,309 1163.5,317.6 1165.8,318.3 C1168.1,319 1172.2,316.9 1174.4,309.7 C1176.6,302.5 1177.5,288.2 1178.7,275.3 C1180,262.4 1181,244.9 1181.9,232.3 C1182.8,219.8 1183.2,217.5 1184.1,200 C1185,182.5 1186.2,145.7 1187.3,127.5 C1188.4,109.3 1189.6,100.3 1190.5,91 C1191.4,81.7 1191.8,76.3 1192.7,71.6 C1193.6,66.9 1194.7,63.4 1195.9,63 C1197.2,62.6 1198.6,67.3 1200.2,69.5 C1201.8,71.7 1204,72.7 1205.6,75.9 C1207.2,79.1 1208.7,85.6 1209.9,88.8 C1211.2,92 1211.8,97.4 1213.1,95.3 C1214.3,93.2 1216.2,79.9 1217.4,75.9 C1218.7,72 1219.5,70.5 1220.6,71.6 C1221.7,72.7 1222.8,84.6 1223.9,82.4 C1225,80.2 1226.6,62.7 1227.1,58.7" fill="none" stroke="#0000ff" stroke-width="6" stroke-linejoin="round" stroke-linecap="round" clip-path="url(#c1)" />
<line x1="800.1" y1="149" x2="752" y2="309.4" stroke="#0000ff" stroke-width="3.1" stroke-linecap="round"/>
<polygon points="747.4,324.7 746.9,304.7 752.4,307.9 758.8,308.3" fill="#0000ff" stroke="#0000ff" stroke-width="1.6" stroke-linejoin="round"/>
<line x1="823.1" y1="136.1" x2="828.9" y2="174.1" stroke="#0000ff" stroke-width="3.1" stroke-linecap="round"/>
<polygon points="831.3,189.9 822.3,172.1 828.7,172.6 834.6,170.2" fill="#0000ff" stroke="#0000ff" stroke-width="1.6" stroke-linejoin="round"/>
<line x1="851.7" y1="99.6" x2="857.1" y2="141.7" stroke="#0000ff" stroke-width="3.1" stroke-linecap="round"/>
<polygon points="859.2,157.6 850.6,139.6 857,140.2 862.9,138" fill="#0000ff" stroke="#0000ff" stroke-width="1.6" stroke-linejoin="round"/>
<line x1="893.7" y1="142.6" x2="912.1" y2="177.8" stroke="#0000ff" stroke-width="3.1" stroke-linecap="round"/>
<polygon points="919.5,192 905.2,178 911.4,176.5 916.2,172.3" fill="#0000ff" stroke="#0000ff" stroke-width="1.6" stroke-linejoin="round"/>
<line x1="802.3" y1="263.4" x2="768.6" y2="309.7" stroke="#000000" stroke-width="3.1" stroke-linecap="round"/>
<polygon points="759.2,322.6 765.4,303.6 769.5,308.5 775.4,310.9" fill="#000000" stroke="#000000" stroke-width="1.6" stroke-linejoin="round"/>
<line x1="881.8" y1="265.6" x2="889.3" y2="292.1" stroke="#000000" stroke-width="3.1" stroke-linecap="round"/>
<polygon points="893.7,307.5 882.5,290.9 888.9,290.7 894.5,287.5" fill="#000000" stroke="#000000" stroke-width="1.6" stroke-linejoin="round"/>
<line x1="1148.6" y1="329" x2="1122.9" y2="368.3" stroke="#000000" stroke-width="3.1" stroke-linecap="round"/>
<polygon points="1114.2,381.7 1119.4,362.4 1123.8,367 1129.8,369.2" fill="#000000" stroke="#000000" stroke-width="1.6" stroke-linejoin="round"/>
<line x1="1168.6" y1="323.7" x2="1168.6" y2="370" stroke="#000000" stroke-width="3.1" stroke-linecap="round"/>
<polygon points="1168.6,386 1162.4,367 1168.6,368.5 1174.8,367" fill="#000000" stroke="#000000" stroke-width="1.6" stroke-linejoin="round"/>
<text x="838.7" y="173.9" font-size="26.554999999999996" fill="#000000" text-anchor="start" font-weight="bold" textLength="51.7" lengthAdjust="spacingAndGlyphs" >1491</text>
<text x="821.5" y="205.8" font-size="27.119999999999997" fill="#000000" text-anchor="start" font-weight="bold" textLength="54.9" lengthAdjust="spacingAndGlyphs" >1581</text>
<text x="924.8" y="199.3" font-size="27.119999999999997" fill="#000000" text-anchor="start" font-weight="bold" textLength="54.7" lengthAdjust="spacingAndGlyphs" >1385</text>
<text x="693.5" y="347" font-size="27.119999999999997" fill="#000000" text-anchor="start" font-weight="bold" textLength="56" lengthAdjust="spacingAndGlyphs" >1625</text>
<text x="883.8" y="328.8" font-size="27.119999999999997" fill="#000000" text-anchor="start" font-weight="bold" textLength="52.8" lengthAdjust="spacingAndGlyphs" >1405</text>
<text x="1090.4" y="414.8" font-size="27.119999999999997" fill="#000000" text-anchor="start" font-weight="bold" textLength="100.1" lengthAdjust="spacingAndGlyphs" >635, 585</text>
<text x="679.6" y="57.4" font-size="25.970000000000002" fill="#0000ff" text-anchor="start" font-weight="bold" textLength="176.4" lengthAdjust="spacingAndGlyphs" >Fe<tspan font-size="16.1" dy="10.4">3</tspan><tspan dy="-10.4">O</tspan><tspan font-size="16.1" dy="10.4">4</tspan><tspan dy="-10.4">@BTCA</tspan></text>
<text x="690.3" y="183.2" font-size="27.560000000000002" fill="#000000" text-anchor="start" font-weight="bold" textLength="73.2" lengthAdjust="spacingAndGlyphs" >Fe<tspan font-size="17.1" dy="11">3</tspan><tspan dy="-11">O</tspan><tspan font-size="17.1" dy="11">4</tspan></text>
<text x="974" y="50.8" font-size="50.5" fill="#000000" text-anchor="start" font-weight="bold" textLength="32.5" lengthAdjust="spacingAndGlyphs" stroke="#000" stroke-width="1.2">B</text>
<line x1="1320" y1="468.5" x2="1320" y2="477.4" stroke="#000000" stroke-width="3.2" stroke-linecap="round"/>
<line x1="1320" y1="18" x2="1320" y2="9.1" stroke="#000000" stroke-width="3.2" stroke-linecap="round"/>
<line x1="1457.2" y1="468.5" x2="1457.2" y2="477.4" stroke="#000000" stroke-width="3.2" stroke-linecap="round"/>
<line x1="1457.2" y1="18" x2="1457.2" y2="9.1" stroke="#000000" stroke-width="3.2" stroke-linecap="round"/>
<line x1="1594.3" y1="468.5" x2="1594.3" y2="477.4" stroke="#000000" stroke-width="3.2" stroke-linecap="round"/>
<line x1="1594.3" y1="18" x2="1594.3" y2="9.1" stroke="#000000" stroke-width="3.2" stroke-linecap="round"/>
<line x1="1731.5" y1="468.5" x2="1731.5" y2="477.4" stroke="#000000" stroke-width="3.2" stroke-linecap="round"/>
<line x1="1731.5" y1="18" x2="1731.5" y2="9.1" stroke="#000000" stroke-width="3.2" stroke-linecap="round"/>
<line x1="1868.6" y1="468.5" x2="1868.6" y2="477.4" stroke="#000000" stroke-width="3.2" stroke-linecap="round"/>
<line x1="1868.6" y1="18" x2="1868.6" y2="9.1" stroke="#000000" stroke-width="3.2" stroke-linecap="round"/>
<line x1="1388.6" y1="468.5" x2="1388.6" y2="472.9" stroke="#000000" stroke-width="3.2" stroke-linecap="round"/>
<line x1="1388.6" y1="18" x2="1388.6" y2="13.6" stroke="#000000" stroke-width="3.2" stroke-linecap="round"/>
<line x1="1525.7" y1="468.5" x2="1525.7" y2="472.9" stroke="#000000" stroke-width="3.2" stroke-linecap="round"/>
<line x1="1525.7" y1="18" x2="1525.7" y2="13.6" stroke="#000000" stroke-width="3.2" stroke-linecap="round"/>
<line x1="1662.9" y1="468.5" x2="1662.9" y2="472.9" stroke="#000000" stroke-width="3.2" stroke-linecap="round"/>
<line x1="1662.9" y1="18" x2="1662.9" y2="13.6" stroke="#000000" stroke-width="3.2" stroke-linecap="round"/>
<line x1="1800" y1="468.5" x2="1800" y2="472.9" stroke="#000000" stroke-width="3.2" stroke-linecap="round"/>
<line x1="1800" y1="18" x2="1800" y2="13.6" stroke="#000000" stroke-width="3.2" stroke-linecap="round"/>
<line x1="1320" y1="468.5" x2="1311.1" y2="468.5" stroke="#000000" stroke-width="3.2" stroke-linecap="round"/>
<line x1="1320" y1="355.9" x2="1311.1" y2="355.9" stroke="#000000" stroke-width="3.2" stroke-linecap="round"/>
<line x1="1320" y1="243.2" x2="1311.1" y2="243.2" stroke="#000000" stroke-width="3.2" stroke-linecap="round"/>
<line x1="1320" y1="130.5" x2="1311.1" y2="130.5" stroke="#000000" stroke-width="3.2" stroke-linecap="round"/>
<line x1="1320" y1="17.9" x2="1311.1" y2="17.9" stroke="#000000" stroke-width="3.2" stroke-linecap="round"/>
<line x1="1320" y1="412.2" x2="1315.6" y2="412.2" stroke="#000000" stroke-width="3.2" stroke-linecap="round"/>
<line x1="1320" y1="299.5" x2="1315.6" y2="299.5" stroke="#000000" stroke-width="3.2" stroke-linecap="round"/>
<line x1="1320" y1="186.9" x2="1315.6" y2="186.9" stroke="#000000" stroke-width="3.2" stroke-linecap="round"/>
<line x1="1320" y1="74.2" x2="1315.6" y2="74.2" stroke="#000000" stroke-width="3.2" stroke-linecap="round"/>
<text x="1320" y="505.4" font-size="29.8" fill="#000000" text-anchor="middle" font-weight="bold" textLength="47.2" lengthAdjust="spacingAndGlyphs" >200</text>
<text x="1457.2" y="505.4" font-size="29.8" fill="#000000" text-anchor="middle" font-weight="bold" textLength="47.2" lengthAdjust="spacingAndGlyphs" >250</text>
<text x="1594.3" y="505.4" font-size="29.8" fill="#000000" text-anchor="middle" font-weight="bold" textLength="47.2" lengthAdjust="spacingAndGlyphs" >300</text>
<text x="1731.5" y="505.4" font-size="29.8" fill="#000000" text-anchor="middle" font-weight="bold" textLength="47.2" lengthAdjust="spacingAndGlyphs" >350</text>
<text x="1868.6" y="505.4" font-size="29.8" fill="#000000" text-anchor="middle" font-weight="bold" textLength="47.2" lengthAdjust="spacingAndGlyphs" >400</text>
<text x="1304.5" y="476.2" font-size="29.8" fill="#000000" text-anchor="end" font-weight="bold" textLength="15.7" lengthAdjust="spacingAndGlyphs" >0</text>
<text x="1304.5" y="363.6" font-size="29.8" fill="#000000" text-anchor="end" font-weight="bold" textLength="15.7" lengthAdjust="spacingAndGlyphs" >1</text>
<text x="1304.5" y="250.9" font-size="29.8" fill="#000000" text-anchor="end" font-weight="bold" textLength="15.7" lengthAdjust="spacingAndGlyphs" >2</text>
<text x="1304.5" y="138.2" font-size="29.8" fill="#000000" text-anchor="end" font-weight="bold" textLength="15.7" lengthAdjust="spacingAndGlyphs" >3</text>
<text x="1304.5" y="25.6" font-size="29.8" fill="#000000" text-anchor="end" font-weight="bold" textLength="15.7" lengthAdjust="spacingAndGlyphs" >4</text>
<text x="1588" y="537.4" font-size="29.5" fill="#000000" text-anchor="middle" font-weight="bold" textLength="62" lengthAdjust="spacingAndGlyphs" >&#955;/nm</text>
<text x="0" y="0" font-size="30" fill="#000000" text-anchor="middle" font-weight="bold" textLength="239.5" lengthAdjust="spacingAndGlyphs" transform="translate(1274.2,261.5) rotate(-90)">Absorbance (a.u.)</text>
<path d="M1320.5,206.4 C1321.3,204.1 1323.8,196.3 1325.1,192.4 C1326.4,188.5 1327.4,187 1328.6,183.1 C1329.8,179.2 1330.7,168.7 1332.1,169.1 C1333.5,169.5 1335.4,185 1336.8,185.4 C1338.2,185.8 1339.1,174.5 1340.3,171.4 C1341.5,168.3 1342.8,169.5 1343.8,166.8 C1344.8,164.1 1345.1,156.3 1346.1,155.1 C1347.1,153.9 1348,159.4 1349.6,159.8 C1351.1,160.2 1353.5,156.6 1355.4,157.4 C1357.3,158.2 1358.9,161.7 1361.2,164.4 C1363.5,167.1 1366.9,170.2 1369.4,173.7 C1371.9,177.2 1373.9,179.9 1376.4,185.4 C1378.9,190.9 1381.2,199 1384.5,206.4 C1387.8,213.8 1392.3,222.6 1396.2,229.6 C1400.1,236.6 1403.9,242.5 1407.8,248.3 C1411.7,254.1 1415.2,260 1419.5,264.6 C1423.8,269.2 1428.5,273 1433.5,276.2 C1438.5,279.4 1444.8,281.4 1449.8,283.6 C1454.8,285.8 1459,286.9 1463.7,289.4 C1468.4,291.9 1473,295.2 1477.7,298.7 C1482.4,302.2 1487,306.5 1491.7,310.4 C1496.4,314.3 1501.1,318.7 1505.7,322 C1510.3,325.3 1514.9,328.2 1519.6,330.2 C1524.2,332.1 1527.8,333.1 1533.6,333.7 C1539.4,334.3 1547.9,333.7 1554.6,333.7 C1561.2,333.7 1568.2,333.1 1573.5,333.6 C1578.8,334.1 1581.2,335.6 1586.5,336.7 C1591.8,337.8 1597.3,339.7 1605.1,340.5 C1612.8,341.3 1624.6,341.4 1633,341.4 C1641.4,341.4 1646,341.1 1655.3,340.5 C1664.6,339.9 1677,338.5 1688.8,337.7 C1700.6,336.9 1710.5,336.6 1726,335.8 C1741.5,335 1766.4,333.7 1781.9,333 C1797.4,332.3 1804.7,332.1 1819.1,331.7 C1833.5,331.3 1860.2,330.8 1868.4,330.6" fill="none" stroke="#0000ff" stroke-width="5.8" stroke-linejoin="round" stroke-linecap="round" clip-path="url(#c2)" />
<path d="M1320.5,264.6 C1321.1,261.9 1322.8,251.8 1324,248.3 C1325.2,244.8 1326,247.5 1327.5,243.6 C1329,239.7 1331.5,229.7 1333.3,225 C1335,220.3 1336.5,218.8 1338,215.7 C1339.5,212.6 1341.2,211.8 1342.6,206.4 C1343.9,201 1344.7,189.7 1346.1,183.1 C1347.5,176.5 1349,173.8 1350.8,166.8 C1352.5,159.8 1354.7,150 1356.6,141.1 C1358.5,132.2 1360.5,121 1362.4,113.2 C1364.3,105.4 1366.2,100.1 1368.2,94.5 C1370.2,88.9 1372.5,81.3 1374.1,79.4 C1375.7,77.5 1376.4,82.3 1377.6,82.9 C1378.8,83.5 1379.5,80.6 1381,82.9 C1382.5,85.2 1385,89.9 1386.9,96.9 C1388.9,103.9 1390.8,115.1 1392.7,124.8 C1394.6,134.5 1396.4,145.4 1398.5,155.1 C1400.6,164.8 1403.2,173.4 1405.5,183.1 C1407.8,192.8 1410.5,205.5 1412.5,213.3 C1414.5,221.1 1415.3,224.1 1417.2,230 C1419.1,235.9 1421.8,242.8 1424.1,248.6 C1426.4,254.4 1428.4,259.8 1431.1,264.9 C1433.8,269.9 1437.3,274.6 1440.4,278.9 C1443.5,283.2 1446.7,287.1 1449.8,290.6 C1452.9,294.1 1456,296 1459.1,299.9 C1462.2,303.8 1465.3,308.5 1468.4,313.9 C1471.5,319.3 1474.6,325.5 1477.7,332.5 C1480.8,339.5 1483.9,348 1487,355.8 C1490.1,363.6 1493.3,371.7 1496.4,379.1 C1499.5,386.5 1502.6,393.8 1505.7,400 C1508.8,406.2 1511.9,411.7 1515,416.4 C1518.1,421.1 1520.8,425.1 1524.3,428 C1527.8,430.9 1531.7,432.6 1536,433.8 C1540.3,435 1545.6,434.5 1549.9,435 C1554.2,435.5 1557.7,436.2 1561.6,436.8 C1565.5,437.4 1569.7,437.2 1573.2,438.5 C1576.7,439.8 1578.7,441.9 1582.5,444.3 C1586.3,446.7 1591.1,450.5 1595.8,453 C1600.5,455.5 1605.1,457.8 1610.7,459.5 C1616.3,461.2 1619.4,462.5 1629.3,463.3 C1639.2,464.1 1630.3,464 1670.2,464.2 C1710.1,464.4 1835.4,464.5 1868.4,464.6" fill="none" stroke="#ff0000" stroke-width="5.8" stroke-linejoin="round" stroke-linecap="round" clip-path="url(#c2)" />
<text x="1353.1" y="71.2" font-size="29.379999999999995" fill="#ff0000" text-anchor="start" font-weight="bold" textLength="46.4" lengthAdjust="spacingAndGlyphs" >220</text>
<text x="1325.1" y="141.5" font-size="29.379999999999995" fill="#0000ff" text-anchor="start" font-weight="bold" textLength="42.9" lengthAdjust="spacingAndGlyphs" >211</text>
<text x="1455.5" y="271.4" font-size="29.379999999999995" fill="#0000ff" text-anchor="start" font-weight="bold" textLength="46.5" lengthAdjust="spacingAndGlyphs" >252</text>
<text x="1414.8" y="333.8" font-size="29.379999999999995" fill="#ff0000" text-anchor="start" font-weight="bold" textLength="46.4" lengthAdjust="spacingAndGlyphs" >252</text>
<text x="1557.4" y="320" font-size="29.379999999999995" fill="#0000ff" text-anchor="start" font-weight="bold" textLength="45.9" lengthAdjust="spacingAndGlyphs" >292</text>
<text x="1551" y="424.1" font-size="29.379999999999995" fill="#ff0000" text-anchor="start" font-weight="bold" textLength="46.7" lengthAdjust="spacingAndGlyphs" >292</text>
<line x1="1599" y1="37.8" x2="1669" y2="37.8" stroke="#ff0000" stroke-width="6" stroke-linecap="round"/>
<line x1="1599" y1="70.2" x2="1669" y2="70.2" stroke="#0000ff" stroke-width="6" stroke-linecap="round"/>
<text x="1682.1" y="48.1" font-size="29.379999999999995" fill="#ff0000" text-anchor="start" font-weight="bold" textLength="76.7" lengthAdjust="spacingAndGlyphs" >BTCA</text>
<text x="1682.1" y="81" font-size="27.560000000000002" fill="#0000ff" text-anchor="start" font-weight="bold" textLength="175.6" lengthAdjust="spacingAndGlyphs" >Fe<tspan font-size="17.1" dy="11">3</tspan><tspan dy="-11">O</tspan><tspan font-size="17.1" dy="11">4</tspan><tspan dy="-11">@BTCA</tspan></text>
<text x="1520.2" y="61.3" font-size="52.5" fill="#000000" text-anchor="start" font-weight="bold" textLength="28.2" lengthAdjust="spacingAndGlyphs" stroke="#000" stroke-width="1.6">C</text>
<line x1="331.6" y1="1038.3" x2="331.6" y2="1047.2" stroke="#000000" stroke-width="3.2" stroke-linecap="round"/>
<line x1="331.6" y1="562.6" x2="331.6" y2="553.7" stroke="#000000" stroke-width="3.2" stroke-linecap="round"/>
<line x1="409.4" y1="1038.3" x2="409.4" y2="1047.2" stroke="#000000" stroke-width="3.2" stroke-linecap="round"/>
<line x1="409.4" y1="562.6" x2="409.4" y2="553.7" stroke="#000000" stroke-width="3.2" stroke-linecap="round"/>
<line x1="487.3" y1="1038.3" x2="487.3" y2="1047.2" stroke="#000000" stroke-width="3.2" stroke-linecap="round"/>
<line x1="487.3" y1="562.6" x2="487.3" y2="553.7" stroke="#000000" stroke-width="3.2" stroke-linecap="round"/>
<line x1="565.1" y1="1038.3" x2="565.1" y2="1047.2" stroke="#000000" stroke-width="3.2" stroke-linecap="round"/>
<line x1="565.1" y1="562.6" x2="565.1" y2="553.7" stroke="#000000" stroke-width="3.2" stroke-linecap="round"/>
<line x1="643" y1="1038.3" x2="643" y2="1047.2" stroke="#000000" stroke-width="3.2" stroke-linecap="round"/>
<line x1="643" y1="562.6" x2="643" y2="553.7" stroke="#000000" stroke-width="3.2" stroke-linecap="round"/>
<line x1="720.8" y1="1038.3" x2="720.8" y2="1047.2" stroke="#000000" stroke-width="3.2" stroke-linecap="round"/>
<line x1="720.8" y1="562.6" x2="720.8" y2="553.7" stroke="#000000" stroke-width="3.2" stroke-linecap="round"/>
<line x1="798.6" y1="1038.3" x2="798.6" y2="1047.2" stroke="#000000" stroke-width="3.2" stroke-linecap="round"/>
<line x1="798.6" y1="562.6" x2="798.6" y2="553.7" stroke="#000000" stroke-width="3.2" stroke-linecap="round"/>
<line x1="876.5" y1="1038.3" x2="876.5" y2="1047.2" stroke="#000000" stroke-width="3.2" stroke-linecap="round"/>
<line x1="876.5" y1="562.6" x2="876.5" y2="553.7" stroke="#000000" stroke-width="3.2" stroke-linecap="round"/>
<line x1="370.5" y1="1038.3" x2="370.5" y2="1042.7" stroke="#000000" stroke-width="3.2" stroke-linecap="round"/>
<line x1="370.5" y1="562.6" x2="370.5" y2="558.2" stroke="#000000" stroke-width="3.2" stroke-linecap="round"/>
<line x1="448.4" y1="1038.3" x2="448.4" y2="1042.7" stroke="#000000" stroke-width="3.2" stroke-linecap="round"/>
<line x1="448.4" y1="562.6" x2="448.4" y2="558.2" stroke="#000000" stroke-width="3.2" stroke-linecap="round"/>
<line x1="526.2" y1="1038.3" x2="526.2" y2="1042.7" stroke="#000000" stroke-width="3.2" stroke-linecap="round"/>
<line x1="526.2" y1="562.6" x2="526.2" y2="558.2" stroke="#000000" stroke-width="3.2" stroke-linecap="round"/>
<line x1="604" y1="1038.3" x2="604" y2="1042.7" stroke="#000000" stroke-width="3.2" stroke-linecap="round"/>
<line x1="604" y1="562.6" x2="604" y2="558.2" stroke="#000000" stroke-width="3.2" stroke-linecap="round"/>
<line x1="681.9" y1="1038.3" x2="681.9" y2="1042.7" stroke="#000000" stroke-width="3.2" stroke-linecap="round"/>
<line x1="681.9" y1="562.6" x2="681.9" y2="558.2" stroke="#000000" stroke-width="3.2" stroke-linecap="round"/>
<line x1="759.7" y1="1038.3" x2="759.7" y2="1042.7" stroke="#000000" stroke-width="3.2" stroke-linecap="round"/>
<line x1="759.7" y1="562.6" x2="759.7" y2="558.2" stroke="#000000" stroke-width="3.2" stroke-linecap="round"/>
<line x1="837.6" y1="1038.3" x2="837.6" y2="1042.7" stroke="#000000" stroke-width="3.2" stroke-linecap="round"/>
<line x1="837.6" y1="562.6" x2="837.6" y2="558.2" stroke="#000000" stroke-width="3.2" stroke-linecap="round"/>
<line x1="296.7" y1="599.7" x2="287.8" y2="599.7" stroke="#000000" stroke-width="3.2" stroke-linecap="round"/>
<line x1="296.7" y1="745.9" x2="287.8" y2="745.9" stroke="#000000" stroke-width="3.2" stroke-linecap="round"/>
<line x1="296.7" y1="892.1" x2="287.8" y2="892.1" stroke="#000000" stroke-width="3.2" stroke-linecap="round"/>
<line x1="296.7" y1="1038.3" x2="287.8" y2="1038.3" stroke="#000000" stroke-width="3.2" stroke-linecap="round"/>
<line x1="296.7" y1="672.8" x2="292.3" y2="672.8" stroke="#000000" stroke-width="3.2" stroke-linecap="round"/>
<line x1="296.7" y1="819" x2="292.3" y2="819" stroke="#000000" stroke-width="3.2" stroke-linecap="round"/>
<line x1="296.7" y1="965.2" x2="292.3" y2="965.2" stroke="#000000" stroke-width="3.2" stroke-linecap="round"/>
<text x="331.6" y="1076.2" font-size="29" fill="#000000" text-anchor="middle" font-weight="bold" textLength="46" lengthAdjust="spacingAndGlyphs" >100</text>
<text x="409.4" y="1076.2" font-size="29" fill="#000000" text-anchor="middle" font-weight="bold" textLength="46" lengthAdjust="spacingAndGlyphs" >200</text>
<text x="487.3" y="1076.2" font-size="29" fill="#000000" text-anchor="middle" font-weight="bold" textLength="46" lengthAdjust="spacingAndGlyphs" >300</text>
<text x="565.1" y="1076.2" font-size="29" fill="#000000" text-anchor="middle" font-weight="bold" textLength="46" lengthAdjust="spacingAndGlyphs" >400</text>
<text x="643" y="1076.2" font-size="29" fill="#000000" text-anchor="middle" font-weight="bold" textLength="46" lengthAdjust="spacingAndGlyphs" >500</text>
<text x="720.8" y="1076.2" font-size="29" fill="#000000" text-anchor="middle" font-weight="bold" textLength="46" lengthAdjust="spacingAndGlyphs" >600</text>
<text x="798.6" y="1076.2" font-size="29" fill="#000000" text-anchor="middle" font-weight="bold" textLength="46" lengthAdjust="spacingAndGlyphs" >700</text>
<text x="876.5" y="1076.2" font-size="29" fill="#000000" text-anchor="middle" font-weight="bold" textLength="46" lengthAdjust="spacingAndGlyphs" >800</text>
<text x="280.5" y="605.7" font-size="29" fill="#000000" text-anchor="end" font-weight="bold" textLength="46" lengthAdjust="spacingAndGlyphs" >100</text>
<text x="280.5" y="751.9" font-size="29" fill="#000000" text-anchor="end" font-weight="bold" textLength="30.7" lengthAdjust="spacingAndGlyphs" >96</text>
<text x="280.5" y="899.6" font-size="29" fill="#000000" text-anchor="end" font-weight="bold" textLength="30.7" lengthAdjust="spacingAndGlyphs" >92</text>
<text x="280.5" y="1046.3" font-size="29" fill="#000000" text-anchor="end" font-weight="bold" textLength="30.7" lengthAdjust="spacingAndGlyphs" >88</text>
<text x="586.6" y="1109" font-size="30" fill="#000000" text-anchor="middle" font-weight="bold" textLength="225" lengthAdjust="spacingAndGlyphs" >Temperature(<tspan font-size="19" dy="-13">o</tspan><tspan dy="13">C)</tspan></text>
<text x="0" y="0" font-size="30" fill="#000000" text-anchor="middle" font-weight="bold" textLength="212.5" lengthAdjust="spacingAndGlyphs" transform="translate(240,808.9) rotate(-90)">% Weight Loss</text>
<line x1="297" y1="590.3" x2="400.6" y2="590.3" stroke="#aaaaaa" stroke-width="1.3" stroke-dasharray="1.5,3"/>
<line x1="400.6" y1="590.3" x2="400.6" y2="686" stroke="#aaaaaa" stroke-width="1.3" stroke-dasharray="1.5,3"/>
<line x1="402.5" y1="635.7" x2="612" y2="639.2" stroke="#333333" stroke-width="2.4" stroke-dasharray="2.4,7.8"/>
<line x1="612" y1="639.2" x2="647.6" y2="639.7" stroke="#aaaaaa" stroke-width="1.3" stroke-dasharray="1.5,3"/>
<line x1="647.6" y1="635.7" x2="647.6" y2="688" stroke="#aaaaaa" stroke-width="1.3" stroke-dasharray="1.5,3"/>
<line x1="408.8" y1="687" x2="605" y2="688.6" stroke="#0000ff" stroke-width="2.2" stroke-dasharray="2.4,7.8"/>
<line x1="605" y1="688.6" x2="647.6" y2="688.8" stroke="#8888ff" stroke-width="1.3" stroke-dasharray="1.5,3"/>
<line x1="646.5" y1="690" x2="646.5" y2="911.6" stroke="#7777ff" stroke-width="1.3" stroke-dasharray="1.5,3"/>
<line x1="647.6" y1="764.5" x2="874.7" y2="764.5" stroke="#aaaaaa" stroke-width="1.3" stroke-dasharray="1.5,3"/>
<line x1="654.5" y1="914" x2="872.3" y2="914" stroke="#0000ff" stroke-width="2.2" stroke-dasharray="2.4,7.8"/>
<path d="M297,597.3 C299.7,599.2 307.5,605.2 313.3,608.9 C319.1,612.6 325.7,616.3 331.9,619.4 C338.1,622.5 344.4,625.3 350.6,627.6 C356.8,629.9 363,631.7 369.2,633.4 C375.4,635.1 381.6,636.5 387.8,638 C394,639.5 400.7,641 406.5,642.7 C412.3,644.5 417.4,646 422.8,648.5 C428.2,651 433.3,654.5 439.1,657.8 C444.9,661 451.5,664.9 457.7,668 C463.9,671.1 470.2,673.6 476.4,676.5 C482.6,679.4 488.8,682.4 495,685.5 C501.2,688.6 507.8,692 513.6,695.1 C519.4,698.2 524.5,700.9 529.9,704.4 C535.3,707.9 540.4,712.4 546.2,716.1 C552,719.8 559.3,723.6 564.9,726.5 C570.5,729.4 574.4,730.2 580,733.5 C585.6,736.8 592.4,741.9 598.6,746.4 C604.8,750.9 611.9,757 617.3,760.3 C622.7,763.6 626.2,764.9 631.2,766.2 C636.2,767.5 642.6,767.2 647.6,768 C652.6,768.8 656.5,769.4 661.5,770.8 C666.5,772.2 672,774.7 677.8,776.2 C683.6,777.8 689.5,778.9 696.5,780.1 C703.5,781.3 711.3,782 719.8,783.2 C728.3,784.4 738,785.7 747.7,787.1 C757.4,788.5 767.1,790.2 778,791.8 C788.9,793.3 803.2,795.3 812.9,796.4 C822.6,797.5 825.7,797.7 836.2,798.1 C846.7,798.5 869.2,798.7 875.8,798.8" fill="none" stroke="#000000" stroke-width="6.2" stroke-linejoin="round" stroke-linecap="round" clip-path="url(#c3)" />
<path d="M297,589.1 C299.7,591.2 307.5,598 313.3,601.9 C319.1,605.8 325.7,608.7 331.9,612.4 C338.1,616.1 345.2,620.4 350.6,624.1 C356,627.8 360.2,630.8 364.5,634.5 C368.8,638.2 372.3,641.5 376.2,646.2 C380.1,650.9 384.3,656.7 387.8,662.5 C391.3,668.3 394,674.9 397.1,681.1 C400.2,687.3 403,693.2 406.5,699.8 C410,706.4 414.2,712.9 418.1,720.7 C422,728.5 425.9,737.5 429.8,746.4 C433.7,755.3 437.5,765.2 441.4,774.3 C445.3,783.4 449.2,792.7 453.1,801 C457,809.3 460.8,817.7 464.7,824.3 C468.6,830.9 472.5,836.1 476.4,840.6 C480.3,845.1 482.2,846.7 488,851 C493.8,855.3 503.5,861.5 511.3,866.2 C519.1,870.9 527.6,875.5 534.6,879 C541.6,882.5 547.8,884.7 553.2,887.2 C558.6,889.7 562.5,892.2 567.2,894.1 C571.9,896 577.9,897.7 581.2,898.8 C584.5,899.9 584.1,898.8 587,900.5 C589.9,902.2 594.7,907.3 598.6,908.8 C602.5,910.3 605.6,908.9 610.3,909.7 C615,910.6 620,912.4 626.6,913.9 C633.2,915.4 642.1,917.2 649.9,918.6 C657.7,920 667,921.2 673.2,922.1 C679.4,923 681.8,922.8 687.2,924 C692.6,925.2 700.6,926.6 705.8,929.1 C711,931.6 714.3,937.4 718.6,939.1 C722.9,940.8 727.3,938.6 731.4,939.1 C735.5,939.6 737.3,940.8 743.1,941.9 C748.9,943 759.8,944.6 766.4,945.9 C773,947.2 777.3,948.5 782.7,949.6 C788.1,950.8 794.9,951.7 799,952.8 C803.1,953.9 804,955.9 807.1,956.3 C810.2,956.7 813.5,955 817.6,955.2 C821.7,955.4 826.9,956.2 831.6,957.5 C836.3,958.8 841.7,962 845.6,962.9 C849.5,963.8 851.4,962.5 854.9,962.9 C858.4,963.3 863,964.7 866.5,965.2 C870,965.7 874.2,965.8 875.8,965.9" fill="none" stroke="#0000ff" stroke-width="6.5" stroke-linejoin="round" stroke-linecap="round" clip-path="url(#c3)" />
<text x="336.6" y="615.5" font-size="30.509999999999998" fill="#000000" text-anchor="start" font-weight="bold" textLength="65" lengthAdjust="spacingAndGlyphs" >-1.07</text>
<text x="321.4" y="688.9" font-size="30.509999999999998" fill="#0000ff" text-anchor="start" font-weight="bold" textLength="65.1" lengthAdjust="spacingAndGlyphs" >-2.50</text>
<text x="656.8" y="678.4" font-size="30.509999999999998" fill="#000000" text-anchor="start" font-weight="bold" textLength="64" lengthAdjust="spacingAndGlyphs" >-1.51</text>
<text x="809.4" y="787.9" font-size="30.509999999999998" fill="#000000" text-anchor="start" font-weight="bold" textLength="65.1" lengthAdjust="spacingAndGlyphs" >-1.39</text>
<text x="651" y="844.2" font-size="30.509999999999998" fill="#0000ff" text-anchor="start" font-weight="bold" textLength="64.6" lengthAdjust="spacingAndGlyphs" >-7.01</text>
<text x="811.7" y="942.7" font-size="30.509999999999998" fill="#0000ff" text-anchor="start" font-weight="bold" textLength="65.1" lengthAdjust="spacingAndGlyphs" >-1.79</text>
<text x="305.1" y="787.9" font-size="26.5" fill="#000000" text-anchor="start" font-weight="bold" textLength="72.2" lengthAdjust="spacingAndGlyphs" >Fe<tspan font-size="16.4" dy="10.6">3</tspan><tspan dy="-10.6">O</tspan><tspan font-size="16.4" dy="10.6">4</tspan></text>
<text x="303.9" y="863.5" font-size="28.62" fill="#0000ff" text-anchor="start" font-weight="bold" textLength="173.5" lengthAdjust="spacingAndGlyphs" >Fe<tspan font-size="17.7" dy="11.4">3</tspan><tspan dy="-11.4">O</tspan><tspan font-size="17.7" dy="11.4">4</tspan><tspan dy="-11.4">@BTCA</tspan></text>
<text x="579.5" y="608.5" font-size="50.5" fill="#000000" text-anchor="start" font-weight="bold" textLength="36.5" lengthAdjust="spacingAndGlyphs" stroke="#000" stroke-width="1.2">D</text>
<line x1="1003.7" y1="1032.4" x2="1003.7" y2="1041.3" stroke="#000000" stroke-width="3.2" stroke-linecap="round"/>
<line x1="1003.7" y1="559.3" x2="1003.7" y2="550.4" stroke="#000000" stroke-width="3.2" stroke-linecap="round"/>
<line x1="1061.3" y1="1032.4" x2="1061.3" y2="1041.3" stroke="#000000" stroke-width="3.2" stroke-linecap="round"/>
<line x1="1061.3" y1="559.3" x2="1061.3" y2="550.4" stroke="#000000" stroke-width="3.2" stroke-linecap="round"/>
<line x1="1119" y1="1032.4" x2="1119" y2="1041.3" stroke="#000000" stroke-width="3.2" stroke-linecap="round"/>
<line x1="1119" y1="559.3" x2="1119" y2="550.4" stroke="#000000" stroke-width="3.2" stroke-linecap="round"/>
<line x1="1176.6" y1="1032.4" x2="1176.6" y2="1041.3" stroke="#000000" stroke-width="3.2" stroke-linecap="round"/>
<line x1="1176.6" y1="559.3" x2="1176.6" y2="550.4" stroke="#000000" stroke-width="3.2" stroke-linecap="round"/>
<line x1="1234.2" y1="1032.4" x2="1234.2" y2="1041.3" stroke="#000000" stroke-width="3.2" stroke-linecap="round"/>
<line x1="1234.2" y1="559.3" x2="1234.2" y2="550.4" stroke="#000000" stroke-width="3.2" stroke-linecap="round"/>
<line x1="1291.8" y1="1032.4" x2="1291.8" y2="1041.3" stroke="#000000" stroke-width="3.2" stroke-linecap="round"/>
<line x1="1291.8" y1="559.3" x2="1291.8" y2="550.4" stroke="#000000" stroke-width="3.2" stroke-linecap="round"/>
<line x1="1349.5" y1="1032.4" x2="1349.5" y2="1041.3" stroke="#000000" stroke-width="3.2" stroke-linecap="round"/>
<line x1="1349.5" y1="559.3" x2="1349.5" y2="550.4" stroke="#000000" stroke-width="3.2" stroke-linecap="round"/>
<line x1="1407.1" y1="1032.4" x2="1407.1" y2="1041.3" stroke="#000000" stroke-width="3.2" stroke-linecap="round"/>
<line x1="1407.1" y1="559.3" x2="1407.1" y2="550.4" stroke="#000000" stroke-width="3.2" stroke-linecap="round"/>
<line x1="1464.7" y1="1032.4" x2="1464.7" y2="1041.3" stroke="#000000" stroke-width="3.2" stroke-linecap="round"/>
<line x1="1464.7" y1="559.3" x2="1464.7" y2="550.4" stroke="#000000" stroke-width="3.2" stroke-linecap="round"/>
<line x1="1522.4" y1="1032.4" x2="1522.4" y2="1041.3" stroke="#000000" stroke-width="3.2" stroke-linecap="round"/>
<line x1="1522.4" y1="559.3" x2="1522.4" y2="550.4" stroke="#000000" stroke-width="3.2" stroke-linecap="round"/>
<line x1="1580" y1="1032.4" x2="1580" y2="1041.3" stroke="#000000" stroke-width="3.2" stroke-linecap="round"/>
<line x1="1580" y1="559.3" x2="1580" y2="550.4" stroke="#000000" stroke-width="3.2" stroke-linecap="round"/>
<line x1="1032.5" y1="1032.4" x2="1032.5" y2="1036.8" stroke="#000000" stroke-width="3.2" stroke-linecap="round"/>
<line x1="1032.5" y1="559.3" x2="1032.5" y2="554.9" stroke="#000000" stroke-width="3.2" stroke-linecap="round"/>
<line x1="1090.1" y1="1032.4" x2="1090.1" y2="1036.8" stroke="#000000" stroke-width="3.2" stroke-linecap="round"/>
<line x1="1090.1" y1="559.3" x2="1090.1" y2="554.9" stroke="#000000" stroke-width="3.2" stroke-linecap="round"/>
<line x1="1147.8" y1="1032.4" x2="1147.8" y2="1036.8" stroke="#000000" stroke-width="3.2" stroke-linecap="round"/>
<line x1="1147.8" y1="559.3" x2="1147.8" y2="554.9" stroke="#000000" stroke-width="3.2" stroke-linecap="round"/>
<line x1="1205.4" y1="1032.4" x2="1205.4" y2="1036.8" stroke="#000000" stroke-width="3.2" stroke-linecap="round"/>
<line x1="1205.4" y1="559.3" x2="1205.4" y2="554.9" stroke="#000000" stroke-width="3.2" stroke-linecap="round"/>
<line x1="1263" y1="1032.4" x2="1263" y2="1036.8" stroke="#000000" stroke-width="3.2" stroke-linecap="round"/>
<line x1="1263" y1="559.3" x2="1263" y2="554.9" stroke="#000000" stroke-width="3.2" stroke-linecap="round"/>
<line x1="1320.7" y1="1032.4" x2="1320.7" y2="1036.8" stroke="#000000" stroke-width="3.2" stroke-linecap="round"/>
<line x1="1320.7" y1="559.3" x2="1320.7" y2="554.9" stroke="#000000" stroke-width="3.2" stroke-linecap="round"/>
<line x1="1378.3" y1="1032.4" x2="1378.3" y2="1036.8" stroke="#000000" stroke-width="3.2" stroke-linecap="round"/>
<line x1="1378.3" y1="559.3" x2="1378.3" y2="554.9" stroke="#000000" stroke-width="3.2" stroke-linecap="round"/>
<line x1="1435.9" y1="1032.4" x2="1435.9" y2="1036.8" stroke="#000000" stroke-width="3.2" stroke-linecap="round"/>
<line x1="1435.9" y1="559.3" x2="1435.9" y2="554.9" stroke="#000000" stroke-width="3.2" stroke-linecap="round"/>
<line x1="1493.6" y1="1032.4" x2="1493.6" y2="1036.8" stroke="#000000" stroke-width="3.2" stroke-linecap="round"/>
<line x1="1493.6" y1="559.3" x2="1493.6" y2="554.9" stroke="#000000" stroke-width="3.2" stroke-linecap="round"/>
<line x1="1551.2" y1="1032.4" x2="1551.2" y2="1036.8" stroke="#000000" stroke-width="3.2" stroke-linecap="round"/>
<line x1="1551.2" y1="559.3" x2="1551.2" y2="554.9" stroke="#000000" stroke-width="3.2" stroke-linecap="round"/>
<line x1="1003.7" y1="559.3" x2="994.8" y2="559.3" stroke="#000000" stroke-width="3.2" stroke-linecap="round"/>
<line x1="1003.7" y1="606.6" x2="994.8" y2="606.6" stroke="#000000" stroke-width="3.2" stroke-linecap="round"/>
<line x1="1003.7" y1="653.9" x2="994.8" y2="653.9" stroke="#000000" stroke-width="3.2" stroke-linecap="round"/>
<line x1="1003.7" y1="701.2" x2="994.8" y2="701.2" stroke="#000000" stroke-width="3.2" stroke-linecap="round"/>
<line x1="1003.7" y1="748.5" x2="994.8" y2="748.5" stroke="#000000" stroke-width="3.2" stroke-linecap="round"/>
<line x1="1003.7" y1="795.8" x2="994.8" y2="795.8" stroke="#000000" stroke-width="3.2" stroke-linecap="round"/>
<line x1="1003.7" y1="843.2" x2="994.8" y2="843.2" stroke="#000000" stroke-width="3.2" stroke-linecap="round"/>
<line x1="1003.7" y1="890.5" x2="994.8" y2="890.5" stroke="#000000" stroke-width="3.2" stroke-linecap="round"/>
<line x1="1003.7" y1="937.8" x2="994.8" y2="937.8" stroke="#000000" stroke-width="3.2" stroke-linecap="round"/>
<line x1="1003.7" y1="985.1" x2="994.8" y2="985.1" stroke="#000000" stroke-width="3.2" stroke-linecap="round"/>
<line x1="1003.7" y1="1032.4" x2="994.8" y2="1032.4" stroke="#000000" stroke-width="3.2" stroke-linecap="round"/>
<line x1="1003.7" y1="583" x2="999.3" y2="583" stroke="#000000" stroke-width="3.2" stroke-linecap="round"/>
<line x1="1003.7" y1="630.3" x2="999.3" y2="630.3" stroke="#000000" stroke-width="3.2" stroke-linecap="round"/>
<line x1="1003.7" y1="677.6" x2="999.3" y2="677.6" stroke="#000000" stroke-width="3.2" stroke-linecap="round"/>
<line x1="1003.7" y1="724.9" x2="999.3" y2="724.9" stroke="#000000" stroke-width="3.2" stroke-linecap="round"/>
<line x1="1003.7" y1="772.2" x2="999.3" y2="772.2" stroke="#000000" stroke-width="3.2" stroke-linecap="round"/>
<line x1="1003.7" y1="819.5" x2="999.3" y2="819.5" stroke="#000000" stroke-width="3.2" stroke-linecap="round"/>
<line x1="1003.7" y1="866.8" x2="999.3" y2="866.8" stroke="#000000" stroke-width="3.2" stroke-linecap="round"/>
<line x1="1003.7" y1="914.1" x2="999.3" y2="914.1" stroke="#000000" stroke-width="3.2" stroke-linecap="round"/>
<line x1="1003.7" y1="961.4" x2="999.3" y2="961.4" stroke="#000000" stroke-width="3.2" stroke-linecap="round"/>
<line x1="1003.7" y1="1008.7" x2="999.3" y2="1008.7" stroke="#000000" stroke-width="3.2" stroke-linecap="round"/>
<text x="1003.7" y="1072" font-size="32.3" fill="#000000" text-anchor="middle" font-weight="normal" textLength="31.5" lengthAdjust="spacingAndGlyphs" >20</text>
<text x="1061.3" y="1072" font-size="32.3" fill="#000000" text-anchor="middle" font-weight="normal" textLength="31.5" lengthAdjust="spacingAndGlyphs" >25</text>
<text x="1119" y="1072" font-size="32.3" fill="#000000" text-anchor="middle" font-weight="normal" textLength="31.5" lengthAdjust="spacingAndGlyphs" >30</text>
<text x="1176.6" y="1072" font-size="32.3" fill="#000000" text-anchor="middle" font-weight="normal" textLength="31.5" lengthAdjust="spacingAndGlyphs" >35</text>
<text x="1234.2" y="1072" font-size="32.3" fill="#000000" text-anchor="middle" font-weight="normal" textLength="31.5" lengthAdjust="spacingAndGlyphs" >40</text>
<text x="1291.8" y="1072" font-size="32.3" fill="#000000" text-anchor="middle" font-weight="normal" textLength="31.5" lengthAdjust="spacingAndGlyphs" >45</text>
<text x="1349.5" y="1072" font-size="32.3" fill="#000000" text-anchor="middle" font-weight="normal" textLength="31.5" lengthAdjust="spacingAndGlyphs" >50</text>
<text x="1407.1" y="1072" font-size="32.3" fill="#000000" text-anchor="middle" font-weight="normal" textLength="31.5" lengthAdjust="spacingAndGlyphs" >55</text>
<text x="1464.7" y="1072" font-size="32.3" fill="#000000" text-anchor="middle" font-weight="normal" textLength="31.5" lengthAdjust="spacingAndGlyphs" >60</text>
<text x="1522.4" y="1072" font-size="32.3" fill="#000000" text-anchor="middle" font-weight="normal" textLength="31.5" lengthAdjust="spacingAndGlyphs" >65</text>
<text x="1580" y="1072" font-size="32.3" fill="#000000" text-anchor="middle" font-weight="normal" textLength="31.5" lengthAdjust="spacingAndGlyphs" >70</text>
<text x="1291.8" y="1105.1" font-size="29" fill="#000000" text-anchor="middle" font-weight="bold" textLength="151.4" lengthAdjust="spacingAndGlyphs" >2<tspan font-weight="normal" font-family="'DejaVu Serif', serif">&#952;</tspan> (degree)</text>
<text x="0" y="0" font-size="30" fill="#000000" text-anchor="middle" font-weight="bold" textLength="201" lengthAdjust="spacingAndGlyphs" transform="translate(973.3,804) rotate(-90)">Intensity (a.u.)</text>
<path d="M1004.9,893.5 C1006,893 1009.7,891.2 1011.8,890.5 C1013.9,889.8 1015.9,890.3 1017.7,889.5 C1019.5,888.7 1020.7,886.8 1022.7,885.6 C1024.7,884.5 1028,881.1 1029.6,882.6 C1031.2,884.1 1031.5,892 1032.5,894.5 C1033.5,897 1034.5,898.7 1035.5,897.4 C1036.5,896.1 1037.2,888.9 1038.4,886.6 C1039.6,884.3 1041.2,883 1042.4,883.6 C1043.6,884.2 1044.3,888.2 1045.3,890.5 C1046.3,892.8 1047,898 1048.3,897.4 C1049.6,896.8 1051.9,887.8 1053.2,886.6 C1054.5,885.5 1055.3,888.9 1056.2,890.5 C1057.1,892.1 1057.4,896.4 1058.7,896.4 C1060,896.4 1062.4,892.6 1064.1,890.5 C1065.8,888.4 1067.4,885.1 1069,883.6 C1070.6,882.1 1072.6,883.8 1073.9,881.7 C1075.2,879.6 1075.9,871.6 1076.9,870.8 C1077.9,870 1078.8,873.6 1079.8,876.7 C1080.8,879.8 1081.6,886.7 1082.8,889.5 C1084,892.3 1085.4,894.5 1086.7,893.5 C1088,892.5 1089.6,884.8 1090.7,883.6 C1091.8,882.5 1092.6,884.8 1093.6,886.6 C1094.6,888.4 1095.4,895 1096.6,894.5 C1097.8,894 1099,885.6 1100.5,883.6 C1102,881.6 1104,884.4 1105.5,882.6 C1107,880.8 1108.1,874.4 1109.4,872.8 C1110.7,871.2 1112,875.8 1113.3,872.8 C1114.6,869.8 1116.3,862.2 1117.3,855 C1118.3,847.8 1118.6,835.6 1119.3,829.4 C1120,823.2 1120.4,817.6 1121.2,817.6 C1122,817.6 1123.2,823.2 1124.2,829.4 C1125.2,835.6 1126.1,847.1 1127.1,855 C1128.1,862.9 1128.6,872.4 1130.1,876.7 C1131.6,881 1134.3,880.7 1136,880.7 C1137.7,880.7 1138.7,878.2 1140,876.7 C1141.3,875.2 1142.7,871.2 1143.9,871.8 C1145.1,872.3 1145.7,876.9 1147,880 C1148.3,883.1 1150.2,890.6 1151.9,890.4 C1153.6,890.1 1155,882.8 1157,878.5 C1159,874.2 1161.5,866.6 1163.8,864.9 C1166.1,863.2 1168.9,869.4 1170.6,868.3 C1172.3,867.2 1172.9,871.1 1174,858.1 C1175.1,845.1 1176.3,818.4 1177.4,790 C1178.5,761.6 1179.8,713.2 1180.8,688 C1181.8,662.8 1182.5,638.7 1183.5,638.7 C1184.5,638.7 1185.5,662.8 1186.6,688 C1187.7,713.2 1189.1,761.1 1190.3,790 C1191.5,818.9 1192.5,847.9 1193.7,861.5 C1195,875.1 1196.5,871.1 1197.8,871.7 C1199,872.3 1199.5,862.1 1201.2,864.9 C1202.9,867.7 1205.7,885.6 1208,888.7 C1210.3,891.8 1212.8,883.9 1214.8,883.6 C1216.8,883.3 1218.2,887.9 1219.9,887 C1221.6,886.1 1223,878.5 1225,878.5 C1227,878.5 1229.5,886.4 1231.8,887 C1234.1,887.6 1236.6,881.9 1238.6,881.9 C1240.6,881.9 1242,887 1243.7,887 C1245.4,887 1246.8,883.3 1248.8,881.9 C1250.8,880.5 1253.3,879.6 1255.6,878.5 C1257.9,877.4 1260.2,879.6 1262.4,875.1 C1264.6,870.6 1266.9,857.2 1268.6,851.3 C1270.3,845.3 1271.2,838.8 1272.7,839.4 C1274.2,840 1276.4,849 1277.8,854.7 C1279.2,860.4 1280.2,869.8 1281.2,873.4 C1282.2,877 1282.6,875.1 1283.9,876.6 C1285.2,878.1 1287.4,880.2 1288.9,882.5 C1290.4,884.8 1291.5,888.6 1292.8,890.4 C1294.1,892.2 1295.6,894.6 1296.8,893.3 C1298,892 1298.7,885.1 1299.7,882.5 C1300.7,879.9 1301.7,877 1302.7,877.6 C1303.7,878.2 1304.6,883.6 1305.6,886.4 C1306.6,889.2 1307.6,894 1308.6,894.3 C1309.6,894.6 1310.5,888.7 1311.5,888.4 C1312.5,888.1 1313.5,890.8 1314.5,892.4 C1315.5,894 1316.5,899 1317.5,898.3 C1318.5,897.6 1319.2,891 1320.4,888.4 C1321.6,885.8 1323.2,882.2 1324.4,882.5 C1325.6,882.8 1326.2,887.9 1327.3,890.4 C1328.4,892.9 1329.8,897.3 1330.9,897.3 C1332.1,897.3 1332.8,891.9 1334.2,890.4 C1335.6,888.9 1337.6,888.2 1339.1,888.4 C1340.6,888.6 1341.8,890.4 1343.1,891.4 C1344.4,892.4 1345.8,895 1347,894.3 C1348.2,893.6 1348.8,888.7 1350,887.4 C1351.2,886.1 1352.6,886.1 1353.9,886.4 C1355.2,886.7 1356.8,890.5 1357.9,889.4 C1359.1,888.2 1359.8,880 1360.8,879.5 C1361.8,879 1362.8,884.1 1363.8,886.4 C1364.8,888.7 1365.7,893.6 1366.7,893.3 C1367.7,893 1368.6,886.8 1369.7,884.5 C1370.8,882.2 1372.3,879.5 1373.6,879.5 C1374.9,879.5 1376.3,884 1377.6,884.5 C1378.9,885 1380,882.8 1381.5,882.5 C1383,882.2 1384.9,884.5 1386.4,882.5 C1387.9,880.5 1389.2,873.7 1390.4,870.7 C1391.7,867.8 1392.8,864.1 1393.9,864.8 C1395.1,865.4 1396.2,870.8 1397.3,874.6 C1398.3,878.4 1399,885.1 1400.2,887.4 C1401.4,889.7 1402.7,888.7 1404.2,888.4 C1405.7,888.1 1407.5,885.5 1409.1,885.5 C1410.7,885.5 1412.3,888.9 1414,888.4 C1415.7,887.9 1417.5,884.1 1419,882.5 C1420.5,880.9 1421.8,882.6 1422.9,878.6 C1424.1,874.6 1425,866.1 1425.9,858.8 C1426.8,851.5 1427.7,840.3 1428.5,835 C1429.3,829.7 1430,828.8 1430.8,827 C1431.6,825.2 1432.4,822.4 1433.4,824.4 C1434.4,826.4 1435.8,832.7 1436.8,839.1 C1437.8,845.5 1438.5,855.2 1439.7,862.8 C1440.9,870.4 1442.4,879.6 1443.7,884.5 C1445,889.4 1446.1,892.2 1447.6,892.4 C1449.1,892.6 1450.8,884.9 1452.5,885.5 C1454.2,886.1 1455.8,897.1 1457.5,896.3 C1459.2,895.5 1460.8,882.1 1462.4,880.5 C1464,878.9 1465.5,885.7 1467.3,886.4 C1469.1,887.1 1471.4,884 1473.2,884.5 C1475,885 1476.7,887.9 1478.2,889.4 C1479.7,890.9 1480.6,895.1 1482.1,893.3 C1483.6,891.5 1485.4,887.6 1487,878.6 C1488.6,869.6 1490.6,850 1491.9,839.1 C1493.2,828.2 1493.9,819.1 1494.9,813.5 C1495.9,807.9 1496.9,804 1497.9,805.6 C1498.9,807.2 1499.8,814.5 1500.8,823.4 C1501.8,832.3 1502.8,848.1 1503.8,858.8 C1504.8,869.5 1505.5,881.8 1506.7,887.4 C1507.9,893 1509.4,890.9 1510.7,892.4 C1512,893.9 1513.3,896.3 1514.6,896.3 C1515.9,896.3 1517.3,891.2 1518.6,892.4 C1519.9,893.5 1521.3,900.8 1522.5,903.2 C1523.7,905.7 1524.3,907.9 1525.5,907.1 C1526.7,906.3 1528.1,900.8 1529.4,898.3 C1530.7,895.8 1532,891.9 1533.3,892.4 C1534.6,892.9 1535.6,900.1 1537.3,901.2 C1539,902.4 1541.4,898.5 1543.2,899.3 C1545,900.1 1546.6,906.4 1548.1,906.2 C1549.6,906 1550.4,899.6 1552.1,898.3 C1553.8,897 1556,898.5 1558,898.3 C1560,898.1 1561.9,898.1 1563.9,897.3 C1565.9,896.5 1567.8,892.8 1569.8,893.3 C1571.8,893.8 1574.2,898.4 1575.7,900.2 C1577.2,902 1578.2,903.5 1578.7,904.2" fill="none" stroke="#000000" stroke-width="5.5" stroke-linejoin="round" stroke-linecap="round" clip-path="url(#c4)" />
<path d="M1004.9,1000.9 C1005.6,998.9 1007.8,992 1008.9,989.1 C1010,986.2 1010.6,983.7 1011.8,983.2 C1012.9,982.7 1014.5,987.8 1015.8,986.1 C1017.1,984.5 1018.6,976.8 1019.7,973.3 C1020.9,969.8 1021.4,966 1022.7,965.4 C1024,964.8 1026.1,967.4 1027.6,969.4 C1029.1,971.4 1030.3,974 1031.5,977.3 C1032.7,980.6 1033.5,988.8 1034.5,989.1 C1035.5,989.4 1036.5,982.2 1037.5,979.2 C1038.5,976.2 1039.1,972 1040.4,971.4 C1041.7,970.8 1043.7,976 1045.3,975.3 C1046.9,974.6 1048.5,968.2 1050.3,967.4 C1052.1,966.6 1054.6,971.7 1056.2,970.4 C1057.8,969.1 1058.9,959.3 1060.1,959.5 C1061.2,959.7 1061.9,968.4 1063.1,971.4 C1064.2,974.4 1065.7,978.6 1067,977.3 C1068.3,976 1069.8,966.6 1071,963.5 C1072.2,960.4 1072.6,958.2 1073.9,958.5 C1075.2,958.8 1077.2,963.1 1078.8,965.4 C1080.4,967.7 1082.3,972.9 1083.8,972.3 C1085.3,971.6 1086.2,963.8 1087.7,961.5 C1089.2,959.2 1090.9,958.8 1092.6,958.5 C1094.2,958.2 1095.9,958 1097.6,959.5 C1099.2,961 1101,965.8 1102.5,967.4 C1104,969 1105.1,970.4 1106.4,969.4 C1107.7,968.4 1109.1,965.1 1110.4,961.5 C1111.7,957.9 1113.2,952.6 1114.3,947.7 C1115.4,942.8 1116.3,939.8 1117.3,931.9 C1118.3,924 1119.4,906.1 1120.2,900.4 C1121,894.6 1121.4,894.8 1122.2,897.4 C1123,900 1124.2,909.1 1125.2,916.2 C1126.2,923.3 1126.9,933.6 1128.1,939.8 C1129.2,946 1130.9,950.5 1132.1,953.6 C1133.2,956.7 1134,958.5 1135,958.5 C1136,958.5 1136.8,955.2 1138,953.6 C1139.2,952 1140.4,948.5 1141.9,948.7 C1143.4,948.9 1144.8,954.8 1146.8,955 C1148.8,955.2 1151.3,950.2 1153.6,949.9 C1155.9,949.6 1158.4,954.1 1160.4,953.3 C1162.4,952.4 1163.5,947.1 1165.5,944.8 C1167.5,942.5 1170.6,945.7 1172.3,939.7 C1174,933.8 1174.6,928.4 1175.7,909.1 C1176.8,889.8 1178,845.6 1179.1,824.1 C1180.2,802.6 1181.4,782.7 1182.5,779.9 C1183.6,777.1 1184.8,794.1 1185.9,807.1 C1187,820.1 1188.2,841.1 1189.3,858.1 C1190.4,875.1 1191.4,895.5 1192.7,909.1 C1194,922.7 1195.7,935.2 1197.1,939.7 C1198.5,944.2 1199.7,934.3 1201.2,936.3 C1202.7,938.3 1204.6,948.5 1206.3,951.6 C1208,954.7 1209.7,953.3 1211.4,955 C1213.1,956.7 1214.5,962.1 1216.5,961.8 C1218.5,961.5 1221,954.4 1223.3,953.3 C1225.6,952.2 1228.1,954.4 1230.1,955 C1232.1,955.6 1232.9,959 1235.2,956.7 C1237.5,954.4 1241.4,942 1243.7,941.4 C1246,940.8 1246.8,950.2 1248.8,953.3 C1250.8,956.4 1253.6,961.2 1255.6,960.1 C1257.6,959 1258.7,951.9 1260.7,946.5 C1262.7,941.1 1265.3,931.5 1267.6,927.8 C1269.9,924.1 1272.4,922.8 1274.4,924.4 C1276.4,926 1277.9,931.3 1279.5,937.1 C1281.1,942.9 1282.5,956.4 1283.9,959.4 C1285.3,962.4 1286.6,957.5 1287.9,955.4 C1289.2,953.3 1290.5,946.9 1291.8,946.6 C1293.1,946.3 1294.5,949.6 1295.8,953.5 C1297.1,957.4 1298.5,969.4 1299.7,970.2 C1300.9,971 1301.7,961.2 1302.7,958.4 C1303.7,955.6 1304.4,952.7 1305.6,953.5 C1306.8,954.3 1308.3,962.8 1309.6,963.3 C1310.9,963.8 1312.2,957.7 1313.5,956.4 C1314.8,955.1 1316.2,956.5 1317.5,955.4 C1318.8,954.2 1320.1,950.6 1321.4,949.5 C1322.7,948.4 1324.2,947.5 1325.3,948.5 C1326.4,949.5 1327.1,953.2 1328.3,955.4 C1329.5,957.5 1330.7,961.1 1332.2,961.4 C1333.7,961.7 1335.4,957.6 1337.2,957.4 C1339,957.2 1341.1,960.6 1343.1,960.4 C1345.1,960.2 1347.2,956.4 1349,956.4 C1350.8,956.4 1352.3,959.9 1353.9,960.4 C1355.5,960.9 1357.3,958.4 1358.8,959.4 C1360.3,960.4 1361.5,966 1362.8,966.3 C1364.1,966.6 1365.5,962.9 1366.7,961.4 C1367.9,959.9 1368.6,957.4 1369.7,957.4 C1370.8,957.4 1372.1,960.1 1373.6,961.4 C1375.1,962.7 1377.1,965.6 1378.6,965.3 C1380.1,965 1381,963 1382.5,959.4 C1384,955.8 1385.9,947.2 1387.4,943.6 C1388.9,940 1389.9,937.4 1391.4,937.7 C1392.9,938 1394.5,942.3 1396.3,945.6 C1398.1,948.9 1400.4,955.1 1402.2,957.4 C1404,959.7 1405.6,958.2 1407.1,959.4 C1408.6,960.5 1409.8,965.1 1411.1,964.3 C1412.4,963.5 1413.5,956.3 1415,954.5 C1416.5,952.7 1418.3,953 1420,953.5 C1421.7,954 1423.4,960 1424.9,957.4 C1426.4,954.8 1427.8,944.3 1428.9,937.7 C1430.1,931.1 1431,922 1431.8,918 C1432.6,914 1433,912.7 1433.8,914 C1434.6,915.3 1435.8,921.3 1436.8,925.9 C1437.8,930.5 1438.7,937.7 1439.7,941.6 C1440.7,945.5 1441.7,945.9 1442.7,949.5 C1443.7,953.1 1444.4,960.2 1445.6,963.3 C1446.8,966.4 1447.9,968 1449.6,968.3 C1451.2,968.6 1453.4,966.9 1455.5,965.3 C1457.6,963.6 1460.1,958.2 1462.4,958.4 C1464.7,958.6 1467.2,965.5 1469.3,966.3 C1471.4,967.1 1473.2,965.3 1475.2,963.3 C1477.2,961.3 1479.1,956.3 1481.1,954.5 C1483.1,952.7 1485.3,956 1487,952.5 C1488.7,949 1489.7,941.5 1491,933.8 C1492.3,926.1 1493.7,912.5 1494.9,906.2 C1496.2,900 1497.3,896 1498.5,896.3 C1499.7,896.6 1500.8,901.9 1501.8,908.1 C1502.8,914.4 1503.8,924.9 1504.8,933.8 C1505.8,942.7 1506.7,955.5 1507.7,961.4 C1508.7,967.3 1509.2,968.4 1510.7,969.2 C1512.2,970 1515,966.8 1516.6,966.3 C1518.2,965.8 1519.3,968.1 1520.5,966.3 C1521.7,964.5 1522.3,955.9 1523.5,955.4 C1524.7,954.9 1525.9,960.7 1527.4,963.3 C1528.9,965.9 1530.6,970.7 1532.4,971.2 C1534.2,971.7 1536.7,965.8 1538.3,966.3 C1539.9,966.8 1540.6,972.9 1542.2,974.2 C1543.8,975.5 1546.1,974.5 1548.1,974.2 C1550.1,973.9 1552,972 1554,972.2 C1556,972.4 1558.2,975.4 1560,975.2 C1561.8,975 1562.9,970.6 1564.9,971.2 C1566.9,971.9 1570,978.4 1571.8,979.1 C1573.6,979.8 1574.5,977.5 1575.7,975.2 C1576.9,972.9 1578.2,966.9 1578.7,965.3" fill="none" stroke="#0000ff" stroke-width="5.6" stroke-linejoin="round" stroke-linecap="round" clip-path="url(#c4)" />
<text x="1162.2" y="621.3" font-size="29.379999999999995" fill="#000000" text-anchor="start" font-weight="bold" textLength="46.5" lengthAdjust="spacingAndGlyphs" >311</text>
<text x="1100.3" y="806.5" font-size="29.379999999999995" fill="#000000" text-anchor="start" font-weight="bold" textLength="49.7" lengthAdjust="spacingAndGlyphs" >220</text>
<text x="1254.6" y="828.7" font-size="29.379999999999995" fill="#000000" text-anchor="start" font-weight="bold" textLength="49.1" lengthAdjust="spacingAndGlyphs" >400</text>
<text x="1369.4" y="853.2" font-size="29.379999999999995" fill="#000000" text-anchor="start" font-weight="bold" textLength="45.3" lengthAdjust="spacingAndGlyphs" >422</text>
<text x="1414.2" y="812.6" font-size="29.379999999999995" fill="#000000" text-anchor="start" font-weight="bold" textLength="41.7" lengthAdjust="spacingAndGlyphs" >511</text>
<text x="1475.2" y="791.2" font-size="29.379999999999995" fill="#000000" text-anchor="start" font-weight="bold" textLength="45.2" lengthAdjust="spacingAndGlyphs" >440</text>
<line x1="1308" y1="596.6" x2="1393" y2="596.6" stroke="#000000" stroke-width="5.5" stroke-linecap="round"/>
<line x1="1305" y1="642" x2="1391" y2="642" stroke="#0000ff" stroke-width="5.5" stroke-linecap="round"/>
<text x="1403.1" y="605.8" font-size="27.03" fill="#000000" text-anchor="start" font-weight="bold" textLength="70.4" lengthAdjust="spacingAndGlyphs" >Fe<tspan font-size="16.8" dy="10.8">3</tspan><tspan dy="-10.8">O</tspan><tspan font-size="16.8" dy="10.8">4</tspan></text>
<text x="1400.2" y="654.2" font-size="27.03" fill="#000000" text-anchor="start" font-weight="bold" textLength="171" lengthAdjust="spacingAndGlyphs" >Fe<tspan font-size="16.8" dy="10.8">3</tspan><tspan dy="-10.8">O</tspan><tspan font-size="16.8" dy="10.8">4</tspan><tspan dy="-10.8">@BTCA</tspan></text>
<text x="1261" y="606.8" font-size="51" fill="#000000" text-anchor="start" font-weight="bold" textLength="24.5" lengthAdjust="spacingAndGlyphs" stroke="#000" stroke-width="1.6">E</text>
<rect x="47.2" y="10.8" width="555.2" height="455.2" fill="none" stroke="#000" stroke-width="3.5"/>
<rect x="676.4" y="8" width="552.8" height="453.4" fill="none" stroke="#000" stroke-width="3.5"/>
<rect x="1320" y="18" width="548.6" height="450.5" fill="none" stroke="#000" stroke-width="3.5"/>
<rect x="296.7" y="562.6" width="580.3" height="475.7" fill="none" stroke="#000" stroke-width="3.5"/>
<rect x="1003.7" y="559.3" width="576.3" height="473.1" fill="none" stroke="#000" stroke-width="3.5"/>
</svg>
</body></html>
